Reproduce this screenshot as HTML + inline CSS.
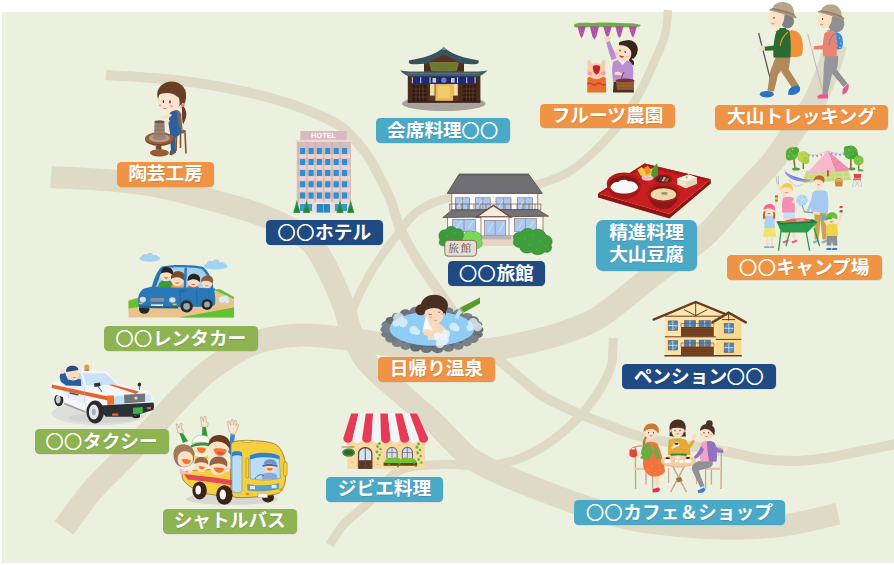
<!DOCTYPE html>
<html lang="ja"><head><meta charset="utf-8"><title>大山エリアマップ</title>
<style>
html,body{margin:0;padding:0;background:#fff}
#map{position:relative;width:894px;height:565px;overflow:hidden;font-family:"Liberation Sans","Noto Sans CJK JP",sans-serif}
#map svg{position:absolute;left:0;top:0}
.lb{position:absolute;box-sizing:border-box;border-radius:4.5px;color:#fff;font-weight:700;font-size:18.7px;line-height:23px;text-align:center;white-space:nowrap;text-shadow:.5px .5px .5px rgba(40,30,20,.18);box-shadow:.5px .5px 0 rgba(0,0,0,.12)}
.lb i{font-style:normal;font-weight:500;-webkit-text-stroke:.7px #fff;font-size:17.6px;letter-spacing:1px;text-shadow:none;font-family:"Noto Sans CJK JP",sans-serif}
.or{background:#ef9445}.nv{background:#1f4a82}.tl{background:#4ba9c8}.gr{background:#8db352}
.two{line-height:22.7px;border-radius:7px;padding-top:1.5px}
</style></head><body>
<div id="map">
<svg width="894" height="565" viewBox="0 0 894 565">
<rect x="2" y="12" width="892" height="551" fill="#ecf0df"/>
<g fill="none" stroke="#dedac6" stroke-linecap="butt" stroke-linejoin="round">
<path d="M106.0,75.0 C117.5,75.8 152.3,77.3 175.0,80.0 C197.7,82.7 221.8,86.7 242.0,91.0 C262.2,95.3 279.7,100.2 296.0,106.0 C312.3,111.8 328.5,118.3 340.0,126.0 C351.5,133.7 358.3,143.3 365.0,152.0 C371.7,160.7 375.7,169.8 380.0,178.0 C384.3,186.2 387.7,192.7 391.0,201.0 C394.3,209.3 395.5,218.0 400.0,228.0 C404.5,238.0 411.7,250.7 418.0,261.0 C424.3,271.3 431.0,280.2 438.0,290.0 C445.0,299.8 452.2,310.3 460.0,320.0 C467.8,329.7 476.3,339.5 485.0,348.0 C493.7,356.5 502.7,363.2 512.0,371.0 C521.3,378.8 530.5,388.2 541.0,395.0 C551.5,401.8 563.8,407.0 575.0,412.0 C586.2,417.0 596.8,420.8 608.0,425.0 C619.2,429.2 628.3,433.5 642.0,437.0 C655.7,440.5 675.7,443.5 690.0,446.0 C704.3,448.5 716.0,449.8 728.0,452.0 C740.0,454.2 750.7,457.5 762.0,459.0 C773.3,460.5 784.8,461.2 796.0,461.0 C807.2,460.8 817.8,459.2 829.0,457.5 C840.2,455.8 851.8,452.9 863.0,450.7 C874.2,448.4 890.5,445.1 896.0,444.0" stroke-width="10"/>
<path d="M51.0,177.0 C62.0,177.7 98.8,179.3 117.0,181.0 C135.2,182.7 146.2,184.3 160.0,187.0 C173.8,189.7 184.3,192.8 200.0,197.0 C215.7,201.2 239.0,207.3 254.0,212.5 C269.0,217.7 280.2,222.6 290.0,228.0 C299.8,233.4 306.5,237.7 313.0,245.0 C319.5,252.3 323.8,261.7 329.0,272.0 C334.2,282.3 340.3,297.2 344.0,307.0 C347.7,316.8 347.7,322.5 351.0,331.0 C354.3,339.5 359.0,350.5 364.0,358.0 C369.0,365.5 374.9,370.2 381.0,376.0 C387.1,381.8 394.7,387.8 400.7,393.0 C406.7,398.2 411.5,402.7 417.0,407.5 C422.5,412.3 428.1,416.8 433.6,422.0 C439.1,427.2 444.4,433.0 450.0,438.6 C455.6,444.2 461.6,451.1 467.3,455.7 C473.0,460.3 478.4,462.9 484.0,466.0 C489.6,469.1 492.6,470.6 501.0,474.2 C509.4,477.8 522.2,482.9 534.5,487.7 C546.8,492.5 562.4,498.6 575.0,503.0 C587.6,507.4 598.0,510.8 610.0,514.0 C622.0,517.2 628.8,520.0 647.0,522.4 C665.2,524.8 696.3,528.0 719.0,528.5 C741.7,529.0 763.2,528.0 783.0,525.5 C802.8,523.0 828.8,515.7 838.0,513.7" stroke-width="22"/>
<path d="M64.0,528.0 C68.3,522.2 81.7,503.0 90.0,493.0 C98.3,483.0 104.3,478.0 114.0,468.0 C123.7,458.0 137.3,444.3 148.0,433.0 C158.7,421.7 168.3,410.0 178.0,400.0 C187.7,390.0 195.3,381.5 206.0,373.0 C216.7,364.5 231.5,354.7 242.0,349.0 C252.5,343.3 259.0,341.3 269.0,339.0 C279.0,336.7 290.2,335.2 302.0,335.0 C313.8,334.8 326.3,336.5 340.0,338.0 C353.7,339.5 369.0,342.0 384.0,344.0 C399.0,346.0 413.3,349.0 430.0,350.0 C446.7,351.0 466.7,351.5 484.0,350.0 C501.3,348.5 518.8,344.6 534.0,341.0 C549.2,337.4 563.2,333.1 575.0,328.5 C586.8,323.9 591.4,322.5 604.6,313.5 C617.8,304.5 637.5,287.1 654.0,274.3 C670.5,261.6 689.9,249.4 703.7,237.0 C717.5,224.6 725.4,212.7 737.0,200.0 C748.6,187.3 763.6,172.5 773.2,160.8 C782.8,149.1 787.8,139.1 794.4,129.6 C801.0,120.1 807.7,113.1 813.0,104.0 C818.3,94.9 822.2,85.0 826.0,75.0 C829.8,65.0 834.3,49.2 836.0,44.0" stroke-width="23"/>
<path d="M668.0,10.0 C667.5,14.2 667.2,26.7 665.0,35.0 C662.8,43.3 658.9,50.9 655.0,60.0 C651.1,69.1 645.9,81.0 641.4,89.7 C636.9,98.4 632.6,105.2 628.0,112.0 C623.4,118.8 619.6,124.0 614.0,130.6 C608.4,137.2 601.7,144.8 594.3,151.6 C586.9,158.4 578.6,166.1 569.5,171.5 C560.4,176.9 551.4,180.4 539.8,183.8 C528.2,187.2 514.6,189.8 500.0,192.0 C485.4,194.2 465.7,193.8 452.0,197.0 C438.3,200.2 427.0,204.8 418.0,211.0 C409.0,217.2 404.7,225.7 398.0,234.0 C391.3,242.3 383.7,252.5 378.0,261.0 C372.3,269.5 368.5,276.2 364.0,285.0 C359.5,293.8 353.8,305.5 351.0,314.0 C348.2,322.5 347.7,332.3 347.0,336.0" stroke-width="8.5"/>
<path d="M613.4,338.0 C613.3,340.3 612.9,347.6 612.6,352.0 C612.3,356.4 613.3,358.9 611.6,364.5 C609.9,370.1 606.3,378.6 602.3,385.7 C598.3,392.8 592.6,400.8 587.7,407.0 C582.8,413.2 578.5,417.7 573.0,423.0 C567.5,428.3 560.7,434.2 554.5,438.8 C548.3,443.4 542.8,447.2 536.0,450.8 C529.2,454.4 522.7,458.0 514.0,460.5 C505.3,463.0 496.3,465.3 484.0,466.0 C471.7,466.7 454.3,463.6 440.0,464.5 C425.7,465.4 410.0,465.1 398.0,471.5 C386.0,477.9 377.0,494.2 368.0,503.0 C359.0,511.8 350.4,517.0 344.0,524.0 C337.6,531.0 331.9,541.5 329.5,545.0" stroke-width="9"/>
</g>
<!-- 01_pottery -->
<g>
<!-- stool -->
<g stroke="#8a4f2a" stroke-width="1.6" fill="none"><path d="M176.5,133 L176,151"/><path d="M185,133 L186,153.5"/><path d="M180.5,134 L180.5,148"/></g>
<ellipse cx="180.5" cy="131.5" rx="5.8" ry="2.2" fill="#9a5a30"/>
<!-- ponytail -->
<path d="M181.5,104 C186,108 187.5,114 185.5,119 C184.6,121.5 183.6,123.5 183.2,124.5 C182,121 181.6,116 182,111 Z" fill="#6b3f24"/>
<!-- hair back -->
<ellipse cx="171.6" cy="94.6" rx="14.4" ry="13.2" fill="#6b3f24"/>
<!-- body (gray shirt) -->
<path d="M172,111 C176,109 180,110 181,114 L182.5,129 L176,131 L171,128 Z" fill="#6f6a6a"/>
<!-- apron -->
<path d="M169.5,113.5 C171,110.5 175.5,110 177,112.5 L179,130 L170,133 L168.5,124 Z" fill="#2f5f9c"/>
<!-- legs -->
<path d="M170,128 L181,127.5 L181.5,133 L175.5,138 L175.5,150 L171,151 L170,137 Z" fill="#2f609e"/>
<path d="M170.5,150 L175.8,149 L176,152.5 L171.5,155.5 L169.2,154.5 Z" fill="#5a5a62"/>
<path d="M155.5,146.5 l3.5,-1.5 l1,3 l-4,1.5z" fill="#5a5a62"/>
<!-- face -->
<path d="M158.2,99 C158.8,92 165,88.5 171,90.5 C177,92.5 180.5,98 179.5,104 C178.5,109.5 173,112 167,111 C161,110 157.6,105.5 158.2,99 Z" fill="#fbe5d0"/>
<!-- hair front -->
<path d="M157.8,95 C160,85.5 170,80.5 178,84 C186,87.5 188,97 184.2,104.5 C182.5,101 178,96 173,94 C168,92 162,93 157.8,95 Z" fill="#6b3f24"/>
<g fill="#4a2a18" opacity=".55"><circle cx="168" cy="86" r=".5"/><circle cx="172" cy="85" r=".5"/><circle cx="176" cy="87" r=".5"/><circle cx="180" cy="90" r=".5"/><circle cx="183" cy="94" r=".5"/><circle cx="170" cy="89" r=".5"/><circle cx="174" cy="89.5" r=".5"/><circle cx="178" cy="92" r=".5"/><circle cx="181.5" cy="97" r=".5"/><circle cx="164" cy="89" r=".5"/><circle cx="166.5" cy="91.5" r=".5"/><circle cx="177" cy="96" r=".5"/><circle cx="180" cy="100" r=".5"/></g>
<ellipse cx="163.4" cy="101.5" rx=".7" ry="1.5" fill="#3a2a20"/><ellipse cx="170" cy="101.8" rx=".8" ry="1.6" fill="#3a2a20"/>
<ellipse cx="160.2" cy="105.5" rx="1.5" ry="1" fill="#f4a0b0"/><ellipse cx="171.5" cy="106.3" rx="1.8" ry="1.1" fill="#f4a0b0"/>
<path d="M163,108 q1.8,1.3 3.6,.2" stroke="#b05040" stroke-width=".7" fill="none"/>
<circle cx="183" cy="105.3" r="1.6" fill="#f070a8"/>
<!-- arms -->
<path d="M172,115 C170,118 166,119.5 161.5,118.5 L160.5,116.5 C164,116.5 167,115.5 169,113 Z" fill="#fbe0c8"/>
<path d="M170,121 C167,123.5 164.5,123.5 162.5,122 L163.5,120.5 C165.5,121.5 167.5,121 169,119.5 Z" fill="#fbe0c8"/>
<!-- wheel -->
<rect x="157.4" y="140" width="4" height="12" fill="#7a4424"/>
<ellipse cx="159.4" cy="153" rx="9.3" ry="3.4" fill="#8a4f28"/>
<ellipse cx="159.4" cy="152.3" rx="9.3" ry="3" fill="#9a5c30"/>
<ellipse cx="159.4" cy="139.5" rx="14.3" ry="6.4" fill="#7e4624"/>
<ellipse cx="159.4" cy="138.2" rx="14.3" ry="6.1" fill="#9a5f34"/>
<ellipse cx="159.4" cy="138" rx="10.6" ry="4.3" fill="#b59a8c"/>
<ellipse cx="159.4" cy="137.6" rx="7" ry="2.6" fill="#a08676"/>
<!-- pot -->
<path d="M154.6,122 C154.2,120.6 164.8,120.6 164.4,122 L164.9,134 C165.6,136 165.6,137.5 164.4,138.6 L154.6,138.6 C153.4,137.5 153.4,136 154.1,134 Z" fill="#9c8274"/>
<ellipse cx="159.5" cy="121.8" rx="4.9" ry="1.5" fill="#6e5448"/>
<g stroke="#7a6054" stroke-width=".6" fill="none"><path d="M154.5,126 h10"/><path d="M154.4,130 h10.2"/><path d="M154.2,134 h10.6"/></g>
</g>

<!-- 02_hotel -->
<g>
<rect x="300.3" y="131" width="46.5" height="9" fill="#d9b9bd"/>
<text x="323.6" y="138.3" font-family="'Liberation Sans',sans-serif" font-weight="700" font-size="7.6" fill="#fff" text-anchor="middle" textLength="25" lengthAdjust="spacingAndGlyphs">HOTEL</text>
<rect x="295.6" y="139.8" width="57" height="2.4" fill="#ead9d8"/>
<rect x="296.8" y="142" width="54.2" height="62" fill="#d6bcbc"/>
<rect x="297.5" y="154.3" width="52.5" height="4.2" fill="#ecd2d0"/>
<rect x="297.5" y="165.2" width="52.5" height="4.2" fill="#ecd2d0"/>
<rect x="297.5" y="176.3" width="52.5" height="4.2" fill="#ecd2d0"/>
<rect x="297.5" y="187.5" width="52.5" height="4.2" fill="#ecd2d0"/>
<rect x="297.5" y="198.8" width="52.5" height="4.2" fill="#ecd2d0"/>
<rect x="297.6" y="142" width="1.6" height="61" fill="#c9aeb0" opacity=".6"/>
<rect x="306.1" y="142" width="1.6" height="61" fill="#c9aeb0" opacity=".6"/>
<rect x="314.4" y="142" width="1.6" height="61" fill="#c9aeb0" opacity=".6"/>
<rect x="322.7" y="142" width="1.6" height="61" fill="#c9aeb0" opacity=".6"/>
<rect x="331.2" y="142" width="1.6" height="61" fill="#c9aeb0" opacity=".6"/>
<rect x="339.5" y="142" width="1.6" height="61" fill="#c9aeb0" opacity=".6"/>
<rect x="300.1" y="148.0" width="5" height="6" rx=".6" fill="#2b8fd6"/>
<rect x="308.6" y="148.0" width="5" height="6" rx=".6" fill="#2b8fd6"/>
<rect x="316.9" y="148.0" width="5" height="6" rx=".6" fill="#2b8fd6"/>
<rect x="325.2" y="148.0" width="5" height="6" rx=".6" fill="#2b8fd6"/>
<rect x="333.7" y="148.0" width="5" height="6" rx=".6" fill="#2b8fd6"/>
<rect x="342.0" y="148.0" width="5" height="6" rx=".6" fill="#2b8fd6"/>
<rect x="300.1" y="158.9" width="5" height="6" rx=".6" fill="#2b8fd6"/>
<rect x="308.6" y="158.9" width="5" height="6" rx=".6" fill="#2b8fd6"/>
<rect x="316.9" y="158.9" width="5" height="6" rx=".6" fill="#2b8fd6"/>
<rect x="325.2" y="158.9" width="5" height="6" rx=".6" fill="#2b8fd6"/>
<rect x="333.7" y="158.9" width="5" height="6" rx=".6" fill="#2b8fd6"/>
<rect x="342.0" y="158.9" width="5" height="6" rx=".6" fill="#2b8fd6"/>
<rect x="300.1" y="170.0" width="5" height="6" rx=".6" fill="#2b8fd6"/>
<rect x="308.6" y="170.0" width="5" height="6" rx=".6" fill="#2b8fd6"/>
<rect x="316.9" y="170.0" width="5" height="6" rx=".6" fill="#2b8fd6"/>
<rect x="325.2" y="170.0" width="5" height="6" rx=".6" fill="#2b8fd6"/>
<rect x="333.7" y="170.0" width="5" height="6" rx=".6" fill="#2b8fd6"/>
<rect x="342.0" y="170.0" width="5" height="6" rx=".6" fill="#2b8fd6"/>
<rect x="300.1" y="181.2" width="5" height="6" rx=".6" fill="#2b8fd6"/>
<rect x="308.6" y="181.2" width="5" height="6" rx=".6" fill="#2b8fd6"/>
<rect x="316.9" y="181.2" width="5" height="6" rx=".6" fill="#2b8fd6"/>
<rect x="325.2" y="181.2" width="5" height="6" rx=".6" fill="#2b8fd6"/>
<rect x="333.7" y="181.2" width="5" height="6" rx=".6" fill="#2b8fd6"/>
<rect x="342.0" y="181.2" width="5" height="6" rx=".6" fill="#2b8fd6"/>
<rect x="300.1" y="192.5" width="5" height="6" rx=".6" fill="#2b8fd6"/>
<rect x="308.6" y="192.5" width="5" height="6" rx=".6" fill="#2b8fd6"/>
<rect x="316.9" y="192.5" width="5" height="6" rx=".6" fill="#2b8fd6"/>
<rect x="325.2" y="192.5" width="5" height="6" rx=".6" fill="#2b8fd6"/>
<rect x="333.7" y="192.5" width="5" height="6" rx=".6" fill="#2b8fd6"/>
<rect x="342.0" y="192.5" width="5" height="6" rx=".6" fill="#2b8fd6"/>

<rect x="297.5" y="203" width="53" height="9.6" fill="#e6dcdc"/>
<rect x="300" y="204" width="12" height="7" fill="#3a98d8"/>
<rect x="335" y="204" width="12" height="7" fill="#3a98d8"/>
<rect x="314.5" y="202.5" width="18" height="1.6" fill="#f2ecec"/>
<rect x="316.7" y="204" width="13.3" height="8.6" fill="#2b86c6"/>
<rect x="323" y="204" width=".7" height="8.6" fill="#8fc4ea"/>
<g fill="#2f9a3c"><path d="M296.8,200 l3.6,12.8 h-7.2z"/><path d="M306.5,200 l3.6,12.8 h-7.2z"/><path d="M340,200 l3.6,12.8 h-7.2z"/><path d="M350.7,200 l3.6,12.8 h-7.2z"/></g>
<g fill="#1f7a2c" opacity=".6"><path d="M296.8,205 l3,7.8 h-6z"/><path d="M306.5,205 l3,7.8 h-6z"/><path d="M340,205 l3,7.8 h-6z"/><path d="M350.7,205 l3,7.8 h-6z"/></g>
</g>
<!-- 03_kaiseki -->
<g>
<ellipse cx="443.8" cy="103.6" rx="42" ry="7.4" fill="#aaa39c"/>
<!-- body -->
<rect x="407.8" y="74" width="72.6" height="28.6" fill="#4a2c1c"/>
<rect x="424" y="60" width="40" height="16" fill="#4e2e1c"/>
<!-- gable panel -->
<path d="M429.5,62.5 L458.5,62.5 L456.5,70.6 L431.5,70.6 Z" fill="#6c7a30"/>
<path d="M429.5,62.5 L458.5,62.5 L456.5,70.6 L431.5,70.6 Z" fill="none" stroke="#c8c890" stroke-width=".5" opacity=".6"/>
<!-- upper roof -->
<path d="M443.8,47.5 C440,50.5 434,54 428,56 C422,58 415,59.5 409.5,60.2 C408.3,61 408.6,63.4 410.5,64 C418,64.5 425,64 430,62.6 C435,61 440,57.5 443.8,55 C447.6,57.5 452.6,61 457.6,62.6 C462.6,64 469.6,64.5 477.1,64 C479,63.4 479.3,61 478.1,60.2 C472.6,59.5 465.6,58 459.6,56 C453.6,54 447.6,50.5 443.8,47.5 Z" fill="#38525e"/>
<path d="M443.8,46.5 l2.5,3.2 h-5z" fill="#7a8a90"/>
<path d="M443.8,54.5 C438,57.5 433,60 428,61.5 L459.6,61.5 C454.6,60 449.6,57.5 443.8,54.5 Z" fill="#5a3420"/>
<!-- lower roof -->
<path d="M400,70.4 C410,72 425,71.5 443.8,71.2 C462.6,71.5 477.6,72 487.6,70.4 C484,74 480,76.4 476,76.6 L411.6,76.6 C407.6,76.4 403.6,74 400,70.4 Z" fill="#435e68"/>
<path d="M408,73.5 h71.6" stroke="#5a8a60" stroke-width=".8" opacity=".7"/>
<!-- noren -->
<rect x="412" y="76.6" width="63.6" height="7.4" fill="#1c2a7a"/>
<g fill="#e8e8f0"><rect x="420.3" y="77.2" width=".9" height="6"/><rect x="429.6" y="77.2" width=".9" height="6"/><rect x="457" y="77.2" width=".9" height="6"/><rect x="466.3" y="77.2" width=".9" height="6"/><rect x="474.6" y="77.2" width=".9" height="6"/><rect x="411.8" y="77.2" width=".9" height="6"/><rect x="432.5" y="78" width="3.6" height="4.6" opacity=".85"/><rect x="451" y="78" width="3.6" height="4.6" opacity=".85"/></g>
<circle cx="443.8" cy="80.2" r="2.6" fill="#6a80c0"/>
<!-- entrance -->
<rect x="429.5" y="84" width="29" height="17.5" fill="#5a3622"/>
<rect x="430" y="84" width="4.6" height="11.6" fill="#f2dca6"/><rect x="453.2" y="84" width="4.6" height="11.6" fill="#f2dca6"/>
<rect x="435.4" y="84" width="17.6" height="17" fill="#e9bb55"/>
<rect x="438" y="86" width="12" height="12" fill="#f3d27a" opacity=".7"/>
<!-- lattice -->
<rect x="412.6" y="85" width="14" height="16.4" fill="#2e1a10"/><rect x="463.2" y="85" width="13" height="16.4" fill="#2e1a10"/>
<g stroke="#6a4630" stroke-width=".7"><path d="M412.6,89 h14 M412.6,93 h14 M412.6,97 h14 M416,85 v16.4 M419.6,85 v16.4 M423,85 v16.4"/><path d="M463.2,89 h13 M463.2,93 h13 M463.2,97 h13 M466.4,85 v16.4 M469.7,85 v16.4 M473,85 v16.4"/></g>
<rect x="407.8" y="100.8" width="72.6" height="1.8" fill="#3a2216"/>
</g>

<!-- 04_fruit -->
<g>
<!-- vine -->
<path d="M574,24.5 C580,21.5 588,23.5 596,22.8 C606,22 616,23 626,23.2 C632,23.3 637,23.5 641,25 C640,27.5 636,27 631,27.2 C620,27.5 608,27 596,27 C588,27 580,28 574.5,27.2 Z" fill="#6ab23e"/>
<g fill="#b24fa2"><path d="M577.4,26.2 h8.4 l-2.4,8.6 l-1.8,3.4 l-1.8,-3.4z"/><path d="M589.8,26.2 h9.2 l-2.6,10 l-2,3.6 l-2,-3.6z"/><path d="M603.2,26.2 h8.6 l-2.4,8.4 l-1.9,3.4 l-1.9,-3.4z"/><path d="M615.4,26.2 h8 l-2.2,8.8 l-1.8,3.2 l-1.8,-3.2z"/><path d="M628.6,26.2 h8.4 l-2.6,8.4 l-1.6,3.2 l-1.6,-3.2z"/></g>
<g fill="#d88ad0" opacity=".7"><circle cx="580.5" cy="30" r=".7"/><circle cx="582.5" cy="33" r=".7"/><circle cx="593.5" cy="30" r=".7"/><circle cx="595.5" cy="34" r=".7"/><circle cx="606.5" cy="30" r=".7"/><circle cx="608.5" cy="33" r=".7"/><circle cx="618.5" cy="30" r=".7"/><circle cx="620" cy="33.5" r=".7"/><circle cx="632" cy="30" r=".7"/><circle cx="633.5" cy="33" r=".7"/></g>
<!-- woman hair back -->
<ellipse cx="628.6" cy="49.6" rx="9.2" ry="9.6" fill="#3b241a"/>
<path d="M629.5,58.5 C633,59 635,61.5 633.5,65.5 C631.5,64.8 629.5,62.5 629,60 Z" fill="#3b241a"/>
<!-- raised arm -->
<path d="M611.5,60 C609.5,54 607.5,47 605.8,41.5 L609.2,40 C611.5,45.5 614.5,52 617.5,58 Z" fill="#b98fd2"/>
<path d="M603.5,37 l2,-1 l1.2,1 l1.8,-1.2 l1.2,1.6 l1.3,0 l-.6,3.2 l-3.6,2 l-2.4,-2z" fill="#fbdcc0"/>
<!-- body -->
<path d="M613,62 C616,58.5 628,58.5 631.5,63 C634,68 633.5,76 632.5,82.8 L613.5,82.8 C612,75 611.5,68 613,62 Z" fill="#b98fd2"/>
<path d="M617.5,59.5 l5,5.5 l4.5,-4.5z" fill="#f6f2f2"/>
<!-- skirt -->
<path d="M613.6,82 L633,82 L634,92.6 L613,92.6 Z" fill="#4a3022"/>
<!-- basket -->
<path d="M624,72 C622,76 621,79 621.5,81" stroke="#7a4a22" stroke-width="1" fill="none"/>
<path d="M615.8,80.4 C620,78.6 630,78.6 634.4,80.4 L633.2,90 L617,90 Z" fill="#8c5a2a"/>
<ellipse cx="625.1" cy="80.4" rx="9.2" ry="1.8" fill="#7a2a4a"/>
<g stroke="#b88a4a" stroke-width=".5" opacity=".7"><path d="M617,83 h16.6 M617.4,86 h15.8"/></g>
<path d="M614.5,72.5 C616.5,71 620,71.5 622,73.5 L621,75.5 C619,74.5 616.5,74.5 615,75 Z" fill="#fbdcc0"/>
<!-- face -->
<path d="M615.2,52.5 C615.6,46.5 621,43.5 626,45.5 C631,47.5 632.5,53 630.5,57.5 C628.5,61.5 622.5,62 619,60 C616.2,58.5 615,55.5 615.2,52.5 Z" fill="#fbdfc6"/>
<path d="M619,42.5 C625,39 634,41 636.5,47.5 C638,52 636.5,56.5 633,59 C633,54.5 631.5,50 627.5,47 C624.5,45 621.5,44.5 619,45.2 Z" fill="#3b241a"/>
<ellipse cx="620" cy="50.5" rx=".6" ry="1.1" fill="#2a1a14"/><ellipse cx="625.2" cy="52" rx=".6" ry="1.1" fill="#2a1a14"/>
<path d="M619,55 C620.5,55.6 622.5,56.2 624,56 C623.5,58.2 620,58.6 619,55 Z" fill="#d83030"/>
<ellipse cx="616.6" cy="53.8" rx="1.3" ry="1" fill="#f8b0a8" opacity=".8"/><ellipse cx="627.5" cy="56.5" rx="1.5" ry="1.1" fill="#f8b0a8" opacity=".8"/>
<!-- child -->
<path d="M587,61.5 l2.2,-2 l1.6,1.4 l1,3 l2,6 l-3.6,1.6 l-2.4,-6z" fill="#f8caae"/>
<path d="M606,61.5 l-2.2,-2 l-1.6,1.4 l-1,3 l-2,6 l3.6,1.6 l2.4,-6z" fill="#f8caae"/>
<path d="M587.4,78 C590,75 603,75 605.8,78 L606.2,92.6 L587.2,92.6 Z" fill="#e86f2a"/>
<path d="M587.4,84 q2.3,-2 4.6,0 t4.6,0 t4.6,0 t4.6,0" stroke="#d83a30" stroke-width="1.3" fill="none"/>
<ellipse cx="596.4" cy="71.2" rx="9.4" ry="8" fill="#f8caae"/>
<path d="M593,66 C594.5,65 598.5,65 600,66.2 C600.5,70 599,73.8 596.5,74.5 C594,73.8 592.5,70 593,66 Z" fill="#c8202a"/>
<ellipse cx="589.8" cy="73.4" rx="2.4" ry="1.8" fill="#f49a98" opacity=".85"/><ellipse cx="603.2" cy="73.4" rx="2.4" ry="1.8" fill="#f49a98" opacity=".85"/>
</g>

<!-- 05_trek -->
<g>
<!-- MAN -->
<path d="M758.6,33 L773,89.5" stroke="#5a5a60" stroke-width="1.3" fill="none"/>
<!-- backpack -->
<path d="M787,32 C794,27.5 801,32 802.4,41 C803.4,47 803,52 801.4,55.6 C799,57.4 792,57.4 788.4,56.4 Z" fill="#f0913a"/>
<!-- back leg -->
<path d="M781,56 L790.5,56 C790,62 789.5,66 788.5,69 L799,85.5 L793.2,89.5 L781.5,72 C780.2,68 780.4,62 781,56 Z" fill="#b18a5a"/>
<!-- front leg -->
<path d="M776,56.5 L789,56.5 C787,63 783,69.5 778,74.5 L774,91.5 L767.4,91 L770,73 C771.5,67 774,61.5 776,56.5 Z" fill="#b18a5a"/>
<ellipse cx="766.8" cy="94.2" rx="7" ry="3.3" fill="#2a72c2"/>
<path d="M788.5,91 C789,88 793,86 797.5,85.5 C800,86 800.8,88.5 799.5,91.5 C796.5,95 791,95.5 788,94.5 Z" fill="#2a72c2"/>
<!-- jacket -->
<path d="M776.4,31.2 C779,28.4 787,28.2 789.4,31 C791,38 791,50 790.4,57.6 L773.4,57.6 C773,48 774,38 776.4,31.2 Z" fill="#2a6b32"/>
<path d="M779.5,28 h6.5 v3.6 h-6.5z" fill="#2a6b32"/>
<path d="M788,32 C784,35 781,40 780,46" stroke="#f0913a" stroke-width="1.2" fill="none"/>
<path d="M780,41 C779.5,45 779,48 777.5,50.2 L764.6,50.8 L764.2,46.8 L774.6,45.6 C775,43 775.6,40 776.4,37.6 Z" fill="#2a6b32"/>
<ellipse cx="762" cy="48.2" rx="2.8" ry="2.6" fill="#fbdcc0"/>
<!-- head -->
<ellipse cx="787.4" cy="21.4" rx="6.6" ry="6.8" fill="#808285"/>
<path d="M768.6,17 C768.6,13 772,11.5 776,11.5 L784,13 C785,18 783.5,24.5 779.6,26.8 C775.5,28.4 771.6,26.5 770.6,23.5 L768.4,20.4 L769.4,19 Z" fill="#fbe0c4"/>
<ellipse cx="774" cy="18" rx=".55" ry="1" fill="#3a2a20"/>
<path d="M771.4,23.4 q1.6,1 3,0" stroke="#c05040" stroke-width=".6" fill="none"/>
<path d="M772,10.4 C772.6,4 779,1.2 785,2.2 C791,3.2 794.6,8 794,14.6 Z" fill="#b9a58a"/>
<path d="M769.8,10.6 C768.6,9.6 769.6,8.4 772.4,8.6 C779,9 789,11.6 795,15.4 C797.4,17 796.6,18.6 794.6,18.2 C788,15.6 778,12.4 769.8,10.6 Z" fill="#a8947a"/>
<path d="M772,8.8 C778,9.6 788,12 794.4,15" stroke="#8e7c66" stroke-width="1.4" fill="none"/>
<!-- WOMAN -->
<path d="M807.8,34.4 L822.4,90" stroke="#b9bcc4" stroke-width="1.1" fill="none"/>
<!-- backpack -->
<path d="M832.6,33.6 C836,30.6 841.6,33 842.6,39 C843.2,43 842.8,46.4 841.6,48.6 C839,49.8 835.4,49.6 833.4,48.8 Z" fill="#3b8bda"/>
<g fill="#dfeefa"><circle cx="836" cy="36" r=".6"/><circle cx="839.5" cy="38" r=".6"/><circle cx="836.5" cy="41" r=".6"/><circle cx="840.5" cy="43" r=".6"/><circle cx="837" cy="46" r=".6"/><circle cx="840" cy="47.4" r=".6"/></g>
<!-- back leg -->
<path d="M828.6,56 L838,56 C838.4,62 837.6,66 836.6,69.6 L847.6,83.4 L843.4,87 L830.8,72 C829,67 828.6,61 828.6,56 Z" fill="#919295"/>
<!-- front leg -->
<path d="M825,56 L837,56 C837,63 835,69 832,74 L827.6,94 L822.4,94 L823.6,74 C823.6,67 824.2,61 825,56 Z" fill="#96979a"/>
<path d="M817.6,96.4 C818.6,94.2 822,93.6 827.8,94 L828,98.4 L818,98.6 Z" fill="#e8559a"/>
<path d="M843,88.5 L848,83.6 C849.4,85 848.8,88 847.6,90.6 C846.4,93 844.4,94.8 842.6,94.4 C842.2,92.4 842.4,90.4 843,88.5 Z" fill="#e8559a"/>
<!-- top -->
<path d="M824.4,33.6 C826,31 833,30.8 835.6,33.4 C837,40 837,49 836.6,56.6 L823.2,56.6 C822.6,48 823,40 824.4,33.6 Z" fill="#ea8472"/>
<path d="M827.4,30 h5.4 v4 h-5.4z" fill="#ea8472"/>
<path d="M827.6,42 C827.4,45 827,47.6 826,49.4 L813.4,49.4 L813.2,46.2 L822.6,45.2 C823,43 823.6,40.6 824.2,38.6 Z" fill="#ea8472"/>
<ellipse cx="811.4" cy="47.6" rx="2.5" ry="2.3" fill="#fbdcc0"/>
<path d="M834.6,33.4 C831.6,36 829.6,40 829,45" stroke="#3b8bda" stroke-width="1" fill="none"/>
<!-- head -->
<ellipse cx="836.2" cy="24" rx="8.2" ry="8.4" fill="#8e9093"/>
<path d="M817.4,18 C817.6,14.6 821,13 825,13 L831.6,14.6 C832.6,19.6 831,25.6 827.4,27.8 C823.6,29.2 820,27.4 819.2,24.4 L817.2,21.4 L818.2,20 Z" fill="#fbe0c4"/>
<ellipse cx="822.6" cy="19" rx=".55" ry="1" fill="#3a2a20"/>
<path d="M820,24.4 q1.5,1 2.8,0" stroke="#d04a50" stroke-width=".7" fill="none"/>
<path d="M820.6,12.4 C821.2,6.4 827,3.8 832.6,4.6 C838.6,5.6 842,10 841.6,16.4 Z" fill="#b9a58a"/>
<path d="M818.4,12.6 C817.2,11.6 818.2,10.4 821,10.6 C827.6,11 837,13.4 843,17 C845.2,18.6 844.6,20 842.6,19.8 C836,17.2 826.6,14.4 818.4,12.6 Z" fill="#a8947a"/>
<path d="M820.6,10.8 C826.6,11.6 836,14 842.2,16.8" stroke="#8e7c66" stroke-width="1.3" fill="none"/>
</g>

<!-- 06_ryokan -->
<g>
<!-- ground -->
<path d="M478,238 h36 l6,8 h-50z" fill="#ead2c4"/>
<!-- upper wall -->
<rect x="451.8" y="192" width="86" height="19" fill="#fbfaf6" stroke="#7a5a48" stroke-width=".7"/>
<g fill="#a9c9f2" stroke="#8a6a58" stroke-width=".6"><rect x="455.4" y="197.8" width="14.2" height="11.6"/><rect x="475.4" y="197.8" width="14.8" height="11.6"/><rect x="496" y="197.8" width="15" height="11.6"/><rect x="517.3" y="197.8" width="15.2" height="11.6"/></g>
<g stroke="#8a6a58" stroke-width=".5"><path d="M462.5,197.8 v11.6 M482.8,197.8 v11.6 M503.5,197.8 v11.6 M524.9,197.8 v11.6"/></g>
<!-- railing -->
<g stroke="#7a5a48" stroke-width=".7" fill="none"><path d="M449.5,204 h91.6 M449.5,210 h91.6"/><path d="M449.8,204 v6 M456,204 v6 M462,204 v6 M468,204 v6 M474,204 v6 M480,204 v6 M486,204 v6 M505,204 v6 M511,204 v6 M517,204 v6 M523,204 v6 M529,204 v6 M535,204 v6 M540.8,204 v6"/></g>
<!-- top roof -->
<path d="M458.9,174.5 L528.8,174.5 L542.4,193.4 L447.2,193.4 Z" fill="#6f6f74" stroke="#5a4034" stroke-width=".8"/>
<rect x="458.9" y="173.6" width="69.9" height="2.2" fill="#5e5e63"/>
<!-- lower wall -->
<rect x="447.4" y="216" width="95.6" height="20" fill="#fbfaf6" stroke="#7a5a48" stroke-width=".7"/>
<!-- lower roof -->
<path d="M451.8,210 L537.7,209.6 L548.6,216.2 L442.8,217.6 Z" fill="#727277" stroke="#5a4034" stroke-width=".7"/>
<!-- entrance gable -->
<path d="M493.4,205.4 L510.4,217 L476.4,217 Z" fill="#f4ecd8" stroke="#6a4a3a" stroke-width="1.3"/>
<rect x="481" y="217" width="28" height="19" fill="#fbfaf6" stroke="#7a5a48" stroke-width=".7"/>
<!-- lower windows -->
<g fill="#a9c9f2" stroke="#8a6a58" stroke-width=".6"><rect x="452.7" y="219.4" width="22.6" height="12"/><rect x="484.6" y="220.4" width="21.2" height="14.8"/><rect x="514.3" y="218.6" width="22" height="12.8"/></g>
<g stroke="#8a6a58" stroke-width=".5"><path d="M464,219.4 v12 M495.2,220.4 v14.8 M525.3,218.6 v12.8"/></g>
<g stroke="#e8f2fc" stroke-width=".8" opacity=".8"><path d="M456,229 l5,-8 M468,229 l5,-8 M488,232 l5,-9 M499,232 l5,-9 M518,229 l5,-8 M529,229 l5,-8 M458,207 l4,-7 M478,207 l4,-7 M499,207 l4,-7 M520,207 l4,-7"/></g>
<!-- steps -->
<rect x="480" y="235.8" width="31.2" height="3.6" fill="#b9b4b0"/>
<!-- bushes -->
<path d="M440,240 C437,234 441,229 446,230 C447,225.5 454,225 456,229 C461,227.5 465,232 463,236 C466,239 464,244 460,244.5 L444,246 C440,246 438,243 440,240 Z" fill="#3c9c3c" stroke="#2a7a2a" stroke-width=".6"/>
<path d="M464,236 C464,231 470,229.5 473,232 C478,230.5 483,235 481,240 C484,244 481,249 476,248.5 L466,247 C462,245 461.5,239.5 464,236 Z" fill="#7bd95a" stroke="#4aaa3a" stroke-width=".6"/>
<path d="M514,240 C512,235 516,231.5 521,232.5 C523,228 530,227 533,230.5 C538,227.5 545,230 545.6,235 C551,235.5 554,241 551,245 C553,249.5 549,253.5 544.6,252 C541,255.5 534,255.5 531.6,252 C526,254.5 520,252 520,247.5 C515,247.5 512,243.5 514,240 Z" fill="#3f9f3c" stroke="#2a7a2a" stroke-width=".6"/>
<g fill="#8fdc6a" opacity=".6"><circle cx="525" cy="238" r=".6"/><circle cx="533" cy="235" r=".6"/><circle cx="540" cy="240" r=".6"/><circle cx="530" cy="245" r=".6"/><circle cx="545" cy="246" r=".6"/><circle cx="537" cy="249" r=".6"/><circle cx="447" cy="236" r=".6"/><circle cx="455" cy="233" r=".6"/><circle cx="452" cy="240" r=".6"/></g>
<!-- sign -->
<rect x="444.8" y="240.4" width="31.8" height="15.8" rx="3.4" fill="#e2ded2" stroke="#8a6a58" stroke-width=".9"/>
<text x="460.7" y="252.3" font-family="'Liberation Serif','Noto Serif CJK SC','Noto Sans CJK JP',serif" font-size="10.5" fill="#6a4a3a" text-anchor="middle" letter-spacing="2">旅館</text>
</g>

<!-- 07_tofu -->
<g>
<!-- tray -->
<path d="M598,193.5 L669.4,214 L710.8,179.2 L710.8,183.4 L669.4,218.6 L598,197.6 Z" fill="#8e1414"/>
<path d="M644.5,163.6 L710.8,179.2 L669.4,214 L598,193.5 Z" fill="#c81e20"/>
<path d="M644.5,163.6 L710.8,179.2 L708,181.4 L645,166.4 L601.5,193.2 L598,193.5 Z" fill="#a81818"/>
<!-- garnish dish -->
<ellipse cx="647.6" cy="177.4" rx="6" ry="3.2" fill="#f3d6dc"/>
<path d="M641.6,176.8 C642.5,180.6 652.7,180.6 653.6,176.8 Z" fill="#eab8c4"/>
<path d="M637.5,170 l4,-3 l3,2.4 l3,-4 l2.6,3.6 l3.4,-.6 l-1,5 l-5,3.4 l-7,-1.4z" fill="#f3c844"/>
<path d="M644,168 l4,-2 l3,6 l-5,3z" fill="#f08a2a"/>
<path d="M651.5,176 C651,171 653,166.5 657,163.6 C658,166 658.4,169 657.6,171.6 C658.6,173 658,175.6 656.6,177 C654.6,177.6 652.6,177.2 651.5,176 Z" fill="#4a9a30"/>
<!-- small dish -->
<ellipse cx="663.4" cy="179.2" rx="8.8" ry="4.6" fill="#8e1616"/>
<path d="M654.6,179.2 C655,184.6 671.8,184.6 672.2,179.2 Z" fill="#9a1818"/>
<ellipse cx="663.4" cy="179.4" rx="7" ry="3.3" fill="#6e1010"/>
<path d="M658.5,180.5 l2,-4 l1.6,.4 l-1.2,4z" fill="#2a4a8a"/><path d="M661.5,181 l2.4,-4.4 l2,1 l-2,4z" fill="#c8b070"/><path d="M664.5,181.4 l3,-4 l2,1.2 l-2.6,3.6z" fill="#4a8a30"/>
<!-- tofu -->
<path d="M677.2,178.6 L688.6,174.4 L696.9,177.6 L696.9,183.8 L685.6,188.2 L677.2,184.4 Z" fill="#efe2c8"/>
<path d="M677.2,178.6 L688.6,174.4 L696.9,177.6 L685.6,181.8 Z" fill="#fbf6ea"/>
<path d="M685.6,181.8 L696.9,177.6 L696.9,183.8 L685.6,188.2 Z" fill="#e6d6b8"/>
<circle cx="686.8" cy="177.4" r="1" fill="#7ab850"/>
<!-- rice bowl -->
<path d="M606.8,183.4 C607.4,192 613,198.6 624.2,198.8 C635.4,198.6 641,192 641.6,183.4 Z" fill="#a01818"/>
<ellipse cx="624.2" cy="183.4" rx="17.4" ry="10.8" fill="#b41c1c"/>
<ellipse cx="624.2" cy="184.6" rx="15.2" ry="8.8" fill="#8a1414"/>
<path d="M610.4,187.4 C611.4,183.6 615,181.6 618.4,182 C620.4,179.4 626.4,179 628.6,181.4 C632.6,180.6 637.4,183.6 638.2,187.6 C636.4,191.8 630.4,193.6 624.2,193.6 C618,193.6 612,191.6 610.4,187.4 Z" fill="#f7f8fa"/>
<!-- soup bowl -->
<path d="M647.4,192.4 C648.4,201.4 654.4,208.8 663.4,209 C672.4,208.8 678.4,201.4 679.4,192.4 Z" fill="#8e1616"/>
<ellipse cx="663.4" cy="192.2" rx="16" ry="9.8" fill="#b41c1c"/>
<ellipse cx="663.4" cy="193.4" rx="13.8" ry="7.6" fill="#8a1414"/>
<ellipse cx="663.4" cy="194.4" rx="12.8" ry="6.2" fill="#f0d9a4"/>
<ellipse cx="664.4" cy="193.4" rx="3.2" ry="1.3" fill="#9a9080"/>
</g>

<!-- 08_camp -->
<g>
<!-- trees left -->
<rect x="793.4" y="156" width="1.6" height="12" fill="#9a6a3a" transform="rotate(-8 794 162)"/>
<rect x="802.6" y="160" width="1.5" height="9" fill="#9a6a3a"/>
<circle cx="792" cy="153.6" r="6.3" fill="#56b03c"/><circle cx="789.5" cy="157" r="3.6" fill="#56b03c"/><circle cx="795.5" cy="150.5" r="3.6" fill="#4aa838"/>
<circle cx="803.4" cy="157" r="6" fill="#b9d84a"/><circle cx="806" cy="160.5" r="3.4" fill="#a8d040"/>
<g fill="#f6e868"><circle cx="790" cy="152" r=".6"/><circle cx="794" cy="156" r=".6"/><circle cx="792.6" cy="149.6" r=".6"/><circle cx="788.6" cy="156" r=".6"/></g>
<g fill="#f08a50"><circle cx="802" cy="155" r=".6"/><circle cx="805.4" cy="158" r=".6"/><circle cx="803.6" cy="161" r=".6"/></g>
<ellipse cx="796" cy="169" rx="4" ry="1.6" fill="#4aa040"/>
<!-- trees right -->
<rect x="850" y="156" width="1.7" height="12" fill="#9a6a3a"/>
<rect x="858" y="162" width="1.4" height="8" fill="#9a6a3a"/>
<circle cx="850.8" cy="152.6" r="7" fill="#4cab3a"/><circle cx="846.8" cy="149" r="3" fill="#4cab3a"/><circle cx="855" cy="156" r="3.4" fill="#43a236"/>
<circle cx="858.6" cy="160.4" r="5" fill="#7ac840"/>
<g fill="#f4e060"><circle cx="849" cy="150" r=".6"/><circle cx="853" cy="154" r=".6"/><circle cx="848" cy="155" r=".6"/><circle cx="858" cy="159" r=".6"/><circle cx="860" cy="162" r=".6"/></g>
<ellipse cx="852" cy="169" rx="3.4" ry="1.4" fill="#4aa040"/><ellipse cx="860.6" cy="170.4" rx="3" ry="1.2" fill="#58b048"/>
<!-- bunting -->
<path d="M805,153.6 C814,156 822,154 827.5,150.5 C833,153 840,154.6 846,151.8" stroke="#b0a8a0" stroke-width=".4" fill="none"/>
<g><path d="M808,154.4 l2,.4 l-1.2,2.4z" fill="#e86aa0"/><path d="M812,155.2 l2,.1 l-1,2.5z" fill="#5a8ae0"/><path d="M816,155.2 l2,-.2 l-.8,2.6z" fill="#9a6ad0"/><path d="M820,154.4 l2,-.5 l-.6,2.6z" fill="#e86aa0"/><path d="M831,152.2 l2,.6 l-1.4,2.2z" fill="#5a8ae0"/><path d="M835,153.4 l2,.4 l-1.2,2.4z" fill="#9a6ad0"/><path d="M839,154 l2,.1 l-1,2.4z" fill="#5a8ae0"/><path d="M842.6,153.6 l2,-.4 l-.8,2.6z" fill="#e86aa0"/></g>
<!-- mat -->
<path d="M806,171 L848,168.4 L851,180 L802.6,183 Z" fill="#c9d97a"/>
<g stroke="#e6eeb0" stroke-width=".5" opacity=".8"><path d="M810,171 l-2,11.6 M818,170.4 l-1,12 M826,170 v12 M834,169.4 l1,12 M842,169 l2,11.6 M804,175 l46,-2.6 M803.4,179 l47,-2.8"/></g>
<!-- tent -->
<path d="M827.5,150.4 L835.4,171.6 L851,170.2 Z" fill="#ee8cae"/>
<path d="M827.5,150.4 L806.3,174 L835.4,171.6 Z" fill="#f7b9cc"/>
<g fill="#fde0e8" opacity=".7"><circle cx="836" cy="160" r=".5"/><circle cx="840" cy="164" r=".5"/><circle cx="838" cy="167" r=".5"/><circle cx="844" cy="167.6" r=".5"/><circle cx="833" cy="157" r=".5"/></g>
<rect x="827" y="170.4" width="1.8" height="6" fill="#e03a40"/>
<!-- hammock -->
<path d="M785.4,172.4 C789,180 800,183 809.8,180.4 C803,178.6 794,177 785.4,172.4 Z" fill="#6a7ad8"/>
<path d="M785.4,172.4 C791,178.6 801,181.6 809.8,180.4" stroke="#9a8ae0" stroke-width="1.6" fill="none"/>
<path d="M785.4,172.4 l-1.4,-3 M809.8,180.4 l3,-1.6 M789,179 C792,186 798,188 803,184" stroke="#a0a4c0" stroke-width=".5" fill="none"/>
<!-- chair and basket -->
<path d="M853.6,174 h7.6 l-.6,4.6 h-6.4z" fill="#e8404a"/><path d="M853,178.6 h8 v1.6 h-8z" fill="#f06a70"/>
<path d="M854,180 l-1.6,7 M860.4,180 l1.6,7 M855,180 l5,7 M859.6,180 l-5,7" stroke="#b0b4c0" stroke-width=".6" fill="none"/>
<path d="M834.6,181 h8.4 l-.8,5.6 h-6.8z" fill="#c88a3a"/><path d="M835.6,181 C836,177.6 841.6,177.6 842,181" stroke="#a86a2a" stroke-width=".7" fill="none"/>
<ellipse cx="838.8" cy="181" rx="4.2" ry="1" fill="#e8a050"/>
<!-- MOTHER -->
<path d="M784,199 C781,194 778.6,189 777,184.6 L779,183.6 C781,188 784,192.6 787,197 Z" fill="#fbdcc0"/>
<path d="M776,176 l1.2,8.4 M778.4,175.6 l.2,8.6" stroke="#a8acb8" stroke-width=".7" fill="none"/>
<path d="M784.6,213 L793.6,213 L795.6,240 L793.4,240 L789.6,222 L787.4,240 L785,240 Z" fill="#fbdcc0"/>
<path d="M783.6,211 h10.8 l.8,7.4 h-12z" fill="#bfe0f6"/>
<path d="M782.6,199 C784,196 792,196 794,198.6 C795,203 795,208 794.6,212.4 L782.4,212.4 C781.8,207.6 781.8,203 782.6,199 Z" fill="#f28fb2"/>
<path d="M793,199.6 C795,200 796,201.6 795,203.6 L791.4,202.8 Z" fill="#fbdcc0"/>
<path d="M782.6,241.4 l5.6,-1.8 l.4,1.8 l-5,2.2z M791.4,241.4 l5.6,-1.8 l.4,1.8 l-5,2.2z" fill="#ea5a9a"/>
<circle cx="786.8" cy="189.8" r="5" fill="#fbe2c8"/>
<path d="M781.2,189.4 C781,184.6 785,182.2 789,183.2 C792.4,184 793.6,187.6 792.6,191 C791,188.6 788,186.6 785,187.6 C783.2,188 782,188.6 781.2,189.4 Z" fill="#f2c95a"/>
<path d="M784.6,192.4 q2,1.6 4.2,0z" fill="#e05050"/>
<!-- fan -->
<circle cx="802" cy="200.2" r="5.6" fill="#a9d2f4"/>
<g stroke="#d8ecfc" stroke-width=".5"><path d="M802,194.6 v11.2 M797,197.6 l10,5.2 M797,202.8 l10,-5.2"/></g>
<path d="M802,205 l2.6,7" stroke="#6a9ad0" stroke-width="1" fill="none"/>
<!-- FATHER -->
<path d="M814.4,212 L826.6,212 L826.6,239.6 L822.4,239.6 L820.6,220 L818.6,239.6 L814.6,239.6 Z" fill="#c9a252"/>
<path d="M812.6,241.6 l5.6,-2.2 l1,1.8 l-5.4,2.6z M821.4,241.6 l5.4,-2.2 l1,1.8 l-5.2,2.6z" fill="#8aa8d8"/>
<path d="M812.6,192.4 C815,189.4 825,189.4 827.4,192.6 C828.6,198 828.6,206 827.8,213 L811.6,213 C810.6,206 811,198 812.6,192.4 Z" fill="#a3caf2"/>
<path d="M812.6,196 C810.6,201 808.6,206 806.6,210.4 L808.8,211.4 C811.4,207 813.6,203 815,199 Z" fill="#a3caf2"/>
<path d="M804,211 l12,1.4 l-.2,1.4 l-12,-1.2z" fill="#909498"/>
<path d="M813,211.4 l7,.6 l-.4,3 l-6.6,-1z" fill="#fbdcc0"/>
<rect x="817.4" y="187" width="2.6" height="3.4" fill="#fbdcc0"/>
<circle cx="818.8" cy="182" r="5" fill="#fbe2c8"/>
<path d="M813.6,181 C813.6,176.6 818,174.6 822,176 C825,177.2 825,181 823.6,183 C822.6,180.6 820,179.2 817,179.6 C815.6,179.8 814.4,180.4 813.6,181 Z" fill="#b9672a"/>
<path d="M816.8,184.6 q1.8,1.4 3.6,0z" fill="#e05050"/>
<!-- GIRL -->
<path d="M773,214 C775,209.6 776.6,205 777.4,201.4 L775.6,200.8 C774.4,205 772.6,209 770.4,212.6 Z" fill="#fbdcc0"/>
<rect x="775" y="195.4" width="3" height="2.2" fill="#e04a3a"/><rect x="775" y="197.6" width="3" height="2" fill="#f0c040"/><rect x="775" y="199.6" width="3" height="2" fill="#58b040"/>
<path d="M766,236.6 h2 l.4,10 h-2z M770.6,236.6 h2 l.6,10 h-2z" fill="#fbdcc0"/>
<path d="M764.4,246.2 h4.6 v1.8 h-5z M769.6,246.2 h4.6 v1.8 h-5z" fill="#8aa8d8"/>
<path d="M764.6,227.6 h10 l1.6,9.2 h-13.2z" fill="#f2e272"/>
<path d="M765,216.6 C766,214.6 773,214.6 774.2,216.6 L775,228 L764.2,228 Z" fill="#a9d2f4"/>
<circle cx="769" cy="210.6" r="5.2" fill="#fbe2c8"/>
<path d="M763.6,210 C763.4,205.6 767,203.4 771,204 C774.6,204.6 775.6,208 774.8,210.6 C771,208 767,208 763.6,210 Z" fill="#f06a9a"/>
<path d="M764,211 C762.6,214 762.6,217 763.6,219.4 L765.4,218 C765,216 765,213.6 765.6,211.6 Z M774.4,211.6 C775.6,214 775.6,217 774.6,219.4 L773,218 C773.4,216 773.4,214 773,212 Z" fill="#b9672a"/>
<path d="M767,213 q2,1.8 4.2,0z" fill="#e05050"/>
<!-- BOY -->
<path d="M836,224.6 C838.4,220 840,215.6 840.8,212 L842.6,212.6 C841.8,217 840.4,221.6 838.4,226 Z" fill="#fbdcc0"/>
<rect x="839.6" y="206" width="3" height="2.2" fill="#e04a3a"/><rect x="839.6" y="208.2" width="3" height="2" fill="#f2ead8"/><rect x="839.6" y="210.2" width="3" height="2.2" fill="#8a5a30"/>
<path d="M828,244.6 h2.6 v4 h-2.6z M832.8,244.6 h2.6 v4 h-2.6z" fill="#fbdcc0"/>
<path d="M826.6,248 h4.8 v2 h-5.2z M832.4,248 h4.8 v2 h-5.2z" fill="#3a7ad0"/>
<path d="M827,235 h10 l.4,10.4 h-4.6 l-.8,-5 l-.8,5 h-4.6z" fill="#8e9094"/>
<path d="M826.6,225 C828,223 836,223 837.4,225 L837.8,236 L826.4,236 Z" fill="#f2d242"/>
<path d="M826.6,226 l-3,-5 l1.6,-1 l3.4,4z" fill="#fbdcc0"/>
<path d="M821.6,215 h3.4 l-.4,5.4 h-2.6z" fill="#6aa8e0"/>
<circle cx="831.4" cy="219.4" r="5" fill="#fbe2c8"/>
<path d="M826,218.6 C826,213.6 830,211.6 834,212.6 C837.4,213.6 838,217 837.2,219.6 C834,217.6 829.6,217.4 826,218.6 Z" fill="#62c23e"/>
<path d="M825.4,218.8 C827,217.6 830,217.4 832,217.8 L831.6,219.2 C829.6,219 827,219.4 825.4,220 Z" fill="#4aa830"/>
<path d="M829.4,221.6 q2,1.8 4.2,0z" fill="#e05050"/>
<!-- GRILL -->
<g stroke="#2c9a4c" stroke-width="1.3" fill="none"><path d="M781,231 L778.6,250.6 M790,231 L786,246 M806,231 L809.6,250.6 M814,228 L819.6,246"/></g>
<path d="M776.4,221.4 L813,219.6 L817.4,222.6 L807.4,232.4 L781.4,232.4 Z" fill="#2c9a4c"/>
<path d="M776.4,221.4 L813,219.6 L817.4,222.6 L779.6,224.6 Z" fill="#1f7a3a"/>
<path d="M786,220.6 C792,218 802,217.4 810,219.4 L810,221.4 L786,222.6 Z" fill="#e86a5a"/>
<path d="M780,221.4 l7,-1 l.4,2 l-7,.6z" fill="#8a9a40"/>
<path d="M796,219.4 l8,-.6 l.4,2 l-8,.6z" fill="#f4a8a0"/>
<g fill="#5ac070" opacity=".6"><circle cx="786" cy="228" r=".5"/><circle cx="792" cy="229" r=".5"/><circle cx="798" cy="228" r=".5"/><circle cx="804" cy="229" r=".5"/><circle cx="789" cy="226" r=".5"/><circle cx="801" cy="226" r=".5"/></g>
</g>

<!-- 09_rentacar -->
<g>
<!-- clouds -->
<g fill="#a3d2f2"><ellipse cx="149.8" cy="258.6" rx="10.6" ry="3.2"/><circle cx="145" cy="257" r="3"/><circle cx="150" cy="256" r="3.2"/><circle cx="155" cy="257.4" r="2.6"/>
<ellipse cx="215.6" cy="266" rx="12" ry="3.6"/><circle cx="210" cy="264" r="3.2"/><circle cx="216" cy="262.8" r="3.6"/><circle cx="222" cy="265" r="3"/></g>
<!-- ground -->
<path d="M128.5,300 L138,297.6 L215,290.4 L234,298 L234,317.4 L128.5,317.4 Z" fill="#e9c28c"/>
<path d="M128.5,301 L139,297.4 L139,307 L128.5,308.6 Z" fill="#62c232"/>
<path d="M179,317.4 L234,307.4 L234,317.4 Z" fill="#62c232"/>
<path d="M213,289.6 L220,289.2 L234,297 L234,299 Z" fill="#62c232"/>
<!-- exhaust puff -->
<g fill="#d6ecfa"><circle cx="222" cy="299.6" r="3.2"/><circle cx="225.6" cy="298.4" r="3"/><circle cx="227" cy="301" r="2.4"/></g>
<!-- wheels back -->
<ellipse cx="144.2" cy="309.2" rx="5.2" ry="4.6" fill="#262626"/>
<!-- car body -->
<path d="M138,301 C138,295 140,291 144,288.6 L152,286.6 C154,278 158,270 162,266.6 C170,264 196,264.6 203,267 C209,271 212.6,280 213.8,290 C215.4,294 215.6,300 215,304.6 L212,306.4 L139.6,308 C138.4,306 138,303.6 138,301 Z" fill="#2a78b8"/>
<!-- window area -->
<path d="M154.6,286.4 C156.4,279 160,271.6 163.6,268.6 C170,266.4 195,267 201.4,269 C206.4,272.6 209.6,280.4 210.6,288.4 Z" fill="#9fd0ee"/>
<!-- people -->
<path d="M158,288 C158,282 162,279.6 167,280 C172,280.4 174,284 174,288 Z" fill="#3a9a40"/>
<circle cx="166" cy="275" r="6.3" fill="#fbdcc0"/>
<path d="M159.4,274.6 C159,269 163,266.4 167.6,267 C172.4,267.6 174,271.6 172.6,275 C170,272 165,270.8 159.4,274.6 Z" fill="#2a2220"/>
<path d="M163.4,277.6 q2.6,2.2 5.2,0z" fill="#d84a40"/>
<path d="M171,289 C171,285 174,283 178,283.4 C182,283.8 184,286 184,289 Z" fill="#f0a040"/>
<circle cx="177.4" cy="280" r="6.3" fill="#fbdcc0"/>
<path d="M171,279 C170.6,273 175,270.4 180,271.4 C185,272.4 186.4,277 184.6,281.6 C182,277.6 177,275.6 171,279 Z" fill="#7a4a2a"/>
<path d="M174.6,282.6 q2.6,2.2 5.2,0z" fill="#d84a40"/>
<path d="M186.6,289.6 C187,286 190,284.6 194,285 C198,285.4 199.6,287.6 199.6,289.6 Z" fill="#e84a40"/>
<circle cx="193.6" cy="281.4" r="5.8" fill="#fbdcc0"/>
<path d="M187.6,281 C187.4,275.6 191,273.2 195.6,274 C200,274.8 201,279 199.6,282 C197,279 193,278 187.6,281 Z" fill="#2a2220"/>
<path d="M191,284 q2.4,2 4.8,0z" fill="#d84a40"/>
<circle cx="207" cy="282.6" r="5.6" fill="#fbdcc0"/>
<path d="M201,282 C201,277 205,274.8 209,275.6 C213,276.4 214,280.6 212.6,283.6 C210,280.6 206,279.6 201,282 Z" fill="#8a5a3a"/>
<path d="M204.6,285.4 q2.2,1.8 4.4,0z" fill="#d84a40"/>
<!-- pillars -->
<path d="M184.6,267.4 L187,267.4 L186,289 L183.6,289 Z" fill="#2a78b8"/>
<path d="M152,287 L215,288.6 L215,291 L152,290 Z" fill="#2a78b8"/>
<path d="M160.6,268 L163,267.2 L156,286.6 L153,286.6 Z" fill="#2a70ae"/>
<!-- door lines -->
<path d="M180,290 L180.6,306.4 M196.6,290 L197,305.6" stroke="#1f5f96" stroke-width=".6" fill="none"/>
<ellipse cx="183" cy="290.8" rx="2.6" ry="1.6" fill="#2a6aa6"/>
<!-- front -->
<ellipse cx="142.8" cy="299.6" rx="3.2" ry="2.8" fill="#d8dee4"/><ellipse cx="172.4" cy="300" rx="3.2" ry="2.8" fill="#d8dee4"/>
<rect x="150.4" y="298" width="13.8" height="3.8" rx=".8" fill="#8a9098"/>
<rect x="151" y="304.4" width="12" height="3.6" fill="#f4f6f8"/>
<rect x="138.6" y="302.6" width="4" height="1.6" fill="#f0c030"/><rect x="172.6" y="303.6" width="4" height="1.6" fill="#f0c030"/>
<path d="M138.6,305.4 L178,306.6 L178,308.6 L139.6,308 Z" fill="#1f5f96"/>
<!-- wheels -->
<circle cx="186.6" cy="306.4" r="6.2" fill="#2a2a2a"/><circle cx="186.6" cy="306.4" r="3.3" fill="#9aa6b0"/>
<circle cx="207" cy="304.4" r="5.5" fill="#2a2a2a"/><circle cx="207" cy="304.4" r="2.9" fill="#9aa6b0"/>
</g>

<!-- 10_taxi -->
<g>
<ellipse cx="99" cy="413.5" rx="47.5" ry="11.6" fill="#dedfda"/>
<ellipse cx="104" cy="418" rx="36" ry="5" fill="#cfcfcc" opacity=".7"/>
<!-- rear wheel -->
<ellipse cx="58.9" cy="399.6" rx="4.6" ry="6.6" fill="#2a2c30"/><ellipse cx="58.2" cy="399.6" rx="2.4" ry="4" fill="#c9ced4"/>
<!-- body -->
<path d="M50.4,390 C50.6,386 51.6,384.4 53,383.4 L62,379 L80.6,371 C88,370.2 99,370.4 106,371.6 L118.4,384 C127,385.4 140,388.6 147.6,391.6 C151.6,393.6 153,397 153.4,402 L153.4,405 L101,407.6 L96,404 L88,404 L85,411 L64,402.6 L63,397 L56,395 L54,397.4 C52,396 50.6,393 50.4,390 Z" fill="#f4f6f9"/>
<path d="M64,402.6 L85,411 L86,413 L64.4,404.4 Z" fill="#9aa0a8"/>
<!-- side shading -->
<path d="M62,379 L80.6,371 L84,385.6 L85,404 L64,396 Z" fill="#e9eef4"/>
<!-- windows -->
<path d="M82.6,373.2 L105.6,373.2 L117.4,384.4 L86,385.2 Z" fill="#c9e2f6"/>
<path d="M64,379.4 L80.4,372.4 L83.2,384.6 L66,381 Z" fill="#b9d6ee"/>
<!-- stripes -->
<path d="M52,384.6 L108,396.6 L108,400.4 L51.6,388 Z" fill="#e8622a"/>
<path d="M108.6,384.8 L112.6,384.6 L139,391.6 L136,394 Z" fill="#e8622a"/>
<!-- door line / text -->
<path d="M68,388.4 L68.6,398" stroke="#b0b8c0" stroke-width=".5"/><path d="M84.4,386 L85,404" stroke="#b0b8c0" stroke-width=".5"/>
<rect x="69.4" y="393" width="9" height="1.8" fill="#5a6068" transform="rotate(12 74 394)"/>
<!-- front face -->
<path d="M107,395.4 L114,395.6 L114.4,404.6 L107.4,405 Z" fill="#f0702a"/>
<path d="M114.4,396 L124,395.4 L124.4,403.4 L114.8,404.4 Z" fill="#bfe0f6"/>
<path d="M124,394.8 L145,393.6 L145.4,401.8 L124.4,403.4 Z" fill="#72767a"/>
<circle cx="136" cy="398" r="1.6" fill="#d8dce0"/>
<path d="M145.4,393.8 L150.6,394.6 L151.4,400.8 L145.8,401.8 Z" fill="#cfe6f8"/>
<!-- bumper -->
<path d="M100.8,405.6 L153.4,402.4 C154.4,405 154.2,408 153.2,410 L131,416.8 L105.8,416.8 L101.6,411.4 Z" fill="#2b3136"/>
<rect x="133" y="407.4" width="9.8" height="6.2" fill="#3fb24a" transform="skewY(-4) translate(0 9.6)"/>
<rect x="112" y="413.6" width="6.4" height="2.2" rx=".8" fill="#f0603a"/><rect x="147" y="407" width="4" height="2.2" rx=".8" fill="#f0603a"/>
<!-- front wheel -->
<ellipse cx="95.2" cy="412" rx="8.8" ry="11.4" fill="#2a2c30"/><ellipse cx="93.8" cy="412" rx="5" ry="7.6" fill="#e4e8ec"/><ellipse cx="93.8" cy="412" rx="2" ry="3.2" fill="#aab0b8"/>
<path d="M131,416.8 L140,414 L140,417 C138,418.6 134,418.6 131,416.8 Z" fill="#1f2226"/>
<!-- roof lamp -->
<ellipse cx="86.8" cy="367.4" rx="2.6" ry="2.8" fill="#f39a2a"/><rect x="84.4" y="369.4" width="4.8" height="1.6" fill="#8a8e94"/>
<!-- mirrors -->
<path d="M94,383.6 l6,-1 l.6,3.4 l-6,1z" fill="#2a2e34"/><path d="M98,386 l4,6" stroke="#2a2e34" stroke-width=".8"/>
<ellipse cx="139.4" cy="384.4" rx="1.7" ry="2" fill="#2a2e34"/><path d="M139.4,386 v4" stroke="#2a2e34" stroke-width=".7"/>
<!-- driver -->
<path d="M59.6,376 C60.6,373 63,371.4 65,372.4 L68,380 L80.6,379 L81.4,386 L66,385.6 L60.6,381.6 Z" fill="#2a5b9a"/>
<circle cx="62.6" cy="371.6" r="2.4" fill="#fbdcc0"/>
<path d="M67.4,373.4 C67.4,369.6 71,367.6 75,368.4 C78.6,369.2 79.6,372.6 79,376 C78.4,379.6 75,381 72,380.4 C69,379.6 67.4,377 67.4,373.4 Z" fill="#fbdcc0"/>
<path d="M66,370.4 C66.4,367 69.6,365.4 73.4,365.8 C76.6,366.2 78.6,368 78.4,370 L66.6,372 Z" fill="#2a4a82"/>
<path d="M72.6,377 q1.6,1.6 3.4,.4z" fill="#d84a40"/>
</g>

<!-- 11_bus -->
<g>
<ellipse cx="232" cy="499" rx="46" ry="6" fill="#d6d8d2"/>
<!-- far wheel -->
<ellipse cx="268" cy="497.4" rx="6" ry="5" fill="#3a2418"/>
<!-- arms -->
<path d="M183,443 L179,432 L181.6,431 L188,441 Z" fill="#2f9a3c"/>
<path d="M176,424 l1.6,0 l1.2,4 l1.6,-4.6 l1.8,.4 l-1,5.2 l2.4,1 l-1,3.6 l-4.6,-.6z" fill="#fbe6cc" stroke="#9a7a5a" stroke-width=".4"/>
<path d="M202,436 L202.4,426 L205.6,426 L207.6,436 Z" fill="#2f9a3c"/>
<path d="M200.4,417 l1.6,-.2 l1.4,4.6 l.8,-5 l1.8,0 l.2,5.4 l2,1 l-.6,4 l-5.6,.4z" fill="#fbe6cc" stroke="#9a7a5a" stroke-width=".4"/>
<path d="M228,452 C229,445 230,439 230.6,434 L235,435 C234.4,441 233,449 231.6,456 Z" fill="#3a86d0"/>
<path d="M227.6,421.6 l1.6,-.4 l1.4,4 l.6,-5.6 l1.7,0 l.5,5.4 l1.4,-4.6 l1.6,.4 l-.6,5.4 l1.6,-2.4 l1.4,.8 l-2,5.6 l-1.6,4 l-5,-.6 l-1.8,-5z" fill="#fbe6cc" stroke="#9a7a5a" stroke-width=".4"/>
<!-- side body -->
<path d="M182.4,473 C186,470.4 200,469 231,470 L231,497.6 L206,493.6 C196,491 188,486 184,481 C182,478 181.6,475 182.4,473 Z" fill="#f4d040" stroke="#8a5a20" stroke-width=".7"/>
<path d="M184.2,474.2 C200,475.6 220,478 242,481.6 L242,486.9 C220,483.2 200,480.8 187.6,479.6 Z" fill="#e8475a"/>
<!-- cab -->
<path d="M231,444 C232,441.6 236,440.6 246,440.6 C260,440.6 270,441.6 276,444.6 C281,447.6 284.4,456 285.6,464 L285.6,478 C285,486 282,491.6 278,493.6 C266,496.6 250,497.8 236,497.6 L231,495 Z" fill="#f4d040" stroke="#8a5a20" stroke-width=".7"/>
<ellipse cx="247" cy="441.4" rx="5" ry="1.2" fill="#f8e070" stroke="#8a5a20" stroke-width=".4"/>
<path d="M230.6,479.8 L242,481.6 L242,486.9 L230.6,485 Z" fill="#e8475a"/>
<!-- door window -->
<path d="M232,454 C232.4,451.6 241,451.8 242,454 L242,491 C240,494 234,493 232,490.6 Z" fill="#b9ddf4" stroke="#5a8ab0" stroke-width=".5"/>
<path d="M232,452.4 C234,450.6 240,450.8 242,452.6 L242,456.4 C239,455 235,455 232,456.4 Z" fill="#2a82d2"/>
<!-- windshield -->
<path d="M250,456 C256,452.6 272,452.8 279.4,456.6 L280.4,478 C272,480.6 258,480.6 250.4,478.6 Z" fill="#b9ddf4" stroke="#5a8ab0" stroke-width=".5"/>
<path d="M250,455.6 C256,451.6 272,451.8 279.4,456 L279.6,459.6 C272,456.6 258,456.4 250,459.4 Z" fill="#2a82d2"/>
<!-- mirrors -->
<path d="M246,458 h2.6 v20 h-2.6z" fill="#f4d040" stroke="#8a5a20" stroke-width=".4"/>
<rect x="283.6" y="462" width="3.6" height="14" rx="1.4" fill="#f4d040" stroke="#8a5a20" stroke-width=".4"/>
<!-- driver -->
<path d="M262,476 C262.6,471.6 276,471.6 277,476 L277,479 L262,479.4 Z" fill="#8aa8d8"/>
<circle cx="269.6" cy="467.6" r="5" fill="#fbdcc0"/>
<path d="M263.6,464.4 C264,460.4 268,458.6 272,459.4 C275.6,460 277,462.6 276.6,465 C273,463.4 267,463.2 263.6,464.4 Z" fill="#7290c4"/>
<path d="M262.4,465.4 C266,463.6 274,463.6 277.6,465.6 L277.2,467 C274,465.6 266,465.6 262.8,466.8 Z" fill="#4a68a8"/>
<path d="M266.6,468.4 C268,468 271.4,468 272.8,468.6 C272.4,471.6 267.2,471.6 266.6,468.4 Z" fill="#f07828"/>
<path d="M255,479 C257,474.6 262,473.6 264,476" stroke="#4a4a50" stroke-width=".8" fill="none"/>
<!-- front lower -->
<path d="M247.6,484.6 C258,486.4 270,486 278.6,483.6 L278.4,488.8 C270,491 258,491.4 247.8,490 Z" fill="#5ba2d4" stroke="#3a6a98" stroke-width=".4"/>
<rect x="250" y="485.8" width="5" height="3.4" fill="#d8ecf8"/><rect x="271.6" y="484.8" width="5" height="3.4" fill="#d8ecf8"/>
<ellipse cx="247.6" cy="494" rx="2" ry="1.2" fill="#f08a2a"/><ellipse cx="281" cy="489.4" rx="1.6" ry="1.2" fill="#f08a2a"/>
<rect x="258" y="493.2" width="9.6" height="4.6" fill="#fafafa" stroke="#8a8a8a" stroke-width=".4"/>
<!-- wheels -->
<ellipse cx="199.6" cy="490.4" rx="7.2" ry="9" fill="#3a2418"/><ellipse cx="198.2" cy="490" rx="2.8" ry="4.6" fill="#f6f4f0"/>
<ellipse cx="224.4" cy="495" rx="8.2" ry="9.8" fill="#3a2418"/><ellipse cx="222.8" cy="494.6" rx="3.2" ry="5" fill="#f6f4f0"/>
<!-- PEOPLE -->
<!-- girl left -->
<path d="M173.6,456 C172.6,448 178,443.6 185,444.4 C192,445.2 196,451 194.6,458 C193.6,464 188,468 182,467 C177,466 174,462 173.6,456 Z" fill="#a4785a"/>
<path d="M177.6,459 C177.6,453 182,450.6 187,451.4 C192,452.4 194,457 192.6,461.6 C191,466 186,467.6 182,466.4 C179,465.4 177.6,462.6 177.6,459 Z" fill="#fbe0c6"/>
<path d="M181.8,459.4 C184.4,458.6 189.4,459.4 191,460.6 C190,465.6 183,465.4 181.8,459.4 Z" fill="#f07828"/>
<path d="M179.6,466 C181,471 186,472.6 190,471 L190.6,474 L180,474 Z" fill="#f4b8c8"/>
<!-- cap boy -->
<circle cx="200.6" cy="446.6" r="8" fill="#fbe0c6"/>
<path d="M192,443.6 C192.6,437 198,434.4 204,435.6 C209,436.6 211,440.6 210,444 C204,441.6 198,441.6 192,443.6 Z" fill="#f6f6f2" stroke="#9a8a6a" stroke-width=".4"/>
<path d="M190.6,445.6 C196,442 206,441.6 212,444.6 L211.6,447 C206,444.6 196,445 191.2,447.6 Z" fill="#2f9a3c"/>
<path d="M196.8,448 C199.2,447.2 204.4,447.6 206,448.8 C205.4,454.6 197.8,454.4 196.8,448 Z" fill="#f07828"/>
<path d="M194,455 C198,458 204,458 208,455 L209,459 L194,459.6 Z" fill="#f2d242"/>
<!-- big boy -->
<circle cx="219" cy="447" r="10.2" fill="#fbe0c6"/>
<path d="M208.6,446 C208,438 214,434.4 221,435.2 C228,436 231.6,441.6 229.6,449 C227,444 222,441 216,441.6 C213,442 210.4,443.6 208.6,446 Z" fill="#6a3a1a"/>
<path d="M213.6,449 C216.4,447.8 224,448.2 226.6,450 C225.6,458 214.8,457.8 213.6,449 Z" fill="#f07828"/>
<path d="M216.6,452.6 C218.6,451.8 222.6,452 224,452.8 C223,455.6 217.6,455.6 216.6,452.6 Z" fill="#e84a4a"/>
<!-- small kid -->
<circle cx="201.4" cy="465" r="6.8" fill="#fbe0c6"/>
<path d="M194.4,464 C194,458.6 198,456.4 202.6,457 C207,457.6 209,461 208,464.6 C205,461.6 199,461.4 194.4,464 Z" fill="#9a6a48"/>
<path d="M198.6,466.4 C200,466 203.6,466.2 204.8,467 C204.2,470.4 199.2,470.2 198.6,466.4 Z" fill="#f07828"/>
<!-- kid lower right -->
<circle cx="218.4" cy="466.6" r="8.6" fill="#fbe0c6"/>
<path d="M209.6,466 C209,459 214,456 220,456.6 C226,457.4 228.6,462 227,467 C224,463 216,462 209.6,466 Z" fill="#9a6240"/>
<path d="M213.8,467.8 C216.2,467 222.4,467.4 224.2,468.6 C223.4,474.6 214.8,474.4 213.8,467.8 Z" fill="#f07828"/>
<path d="M224,470 l5,-2 l1.6,3 l-5,2.6z" fill="#fbe0c6" stroke="#9a7a5a" stroke-width=".3"/>
<path d="M188,470 l4,-1 l1,3 l-4,1.4z" fill="#fbe0c6"/>
</g>

<!-- 12_onsen -->
<g>
<ellipse cx="432" cy="330" rx="47" ry="20.4" fill="#5e656d"/>
<ellipse cx="478.5" cy="329.6" rx="4.9" ry="3.7" fill="#646b73"/>
<ellipse cx="477.1" cy="334.4" rx="5.7" ry="3.7" fill="#6b727a"/>
<ellipse cx="473.2" cy="338.9" rx="5.3" ry="4.0" fill="#7a8088"/>
<ellipse cx="466.8" cy="342.9" rx="4.9" ry="3.5" fill="#7a8088"/>
<ellipse cx="458.4" cy="346.1" rx="5.2" ry="3.7" fill="#7a8088"/>
<ellipse cx="448.5" cy="348.3" rx="5.4" ry="3.4" fill="#737a82"/>
<ellipse cx="437.6" cy="349.5" rx="5.6" ry="3.7" fill="#6b727a"/>
<ellipse cx="426.4" cy="349.5" rx="5.4" ry="3.4" fill="#6b727a"/>
<ellipse cx="415.5" cy="348.3" rx="5.0" ry="3.3" fill="#646b73"/>
<ellipse cx="405.6" cy="346.1" rx="5.2" ry="3.9" fill="#7a8088"/>
<ellipse cx="397.2" cy="342.9" rx="5.5" ry="4.0" fill="#7a8088"/>
<ellipse cx="390.8" cy="338.9" rx="5.5" ry="3.8" fill="#737a82"/>
<ellipse cx="386.9" cy="334.4" rx="5.7" ry="3.4" fill="#737a82"/>
<ellipse cx="385.5" cy="329.6" rx="5.2" ry="3.5" fill="#7a8088"/>
<ellipse cx="386.9" cy="324.8" rx="5.5" ry="4.0" fill="#7a8088"/>
<ellipse cx="390.8" cy="320.3" rx="5.2" ry="3.6" fill="#646b73"/>
<ellipse cx="397.2" cy="316.3" rx="5.2" ry="3.6" fill="#737a82"/>
<ellipse cx="405.6" cy="313.1" rx="5.7" ry="3.8" fill="#6b727a"/>
<ellipse cx="415.5" cy="310.9" rx="5.6" ry="4.1" fill="#737a82"/>
<ellipse cx="426.4" cy="309.7" rx="5.4" ry="3.6" fill="#6b727a"/>
<ellipse cx="437.6" cy="309.7" rx="5.5" ry="3.5" fill="#646b73"/>
<ellipse cx="448.5" cy="310.9" rx="4.9" ry="3.4" fill="#7a8088"/>
<ellipse cx="458.4" cy="313.1" rx="4.7" ry="3.9" fill="#7a8088"/>
<ellipse cx="466.8" cy="316.3" rx="5.7" ry="3.3" fill="#7a8088"/>
<ellipse cx="473.2" cy="320.3" rx="5.5" ry="4.0" fill="#6b727a"/>
<ellipse cx="477.1" cy="324.8" rx="5.3" ry="3.9" fill="#7a8088"/>

<ellipse cx="432" cy="328.8" rx="42.5" ry="17" fill="#8fcdf4"/>
<!-- bamboo -->
<path d="M460,307.8 L480,297.4 L480,303.4 L464,312.4 Z" fill="#5a9a30"/>
<path d="M460,307.8 L464,312.4 L462.4,313.4 L458.6,309 Z" fill="#8aba5a"/>
<path d="M459,309 C457,312 455.4,315 455,318.6 L458.4,319 C459,316 460.4,314 462.4,312.6 Z" fill="#bfe2f8"/>
<!-- steam -->
<g fill="#e9f4fb" opacity=".75"><circle cx="398.6" cy="318" r="5.4"/><circle cx="403" cy="322.6" r="4.6"/><circle cx="396" cy="323" r="3.6"/><circle cx="413.6" cy="330" r="4.2"/><circle cx="417" cy="332" r="3"/><circle cx="453.6" cy="326.6" r="4.2"/><circle cx="456.6" cy="328.6" r="3"/><circle cx="473" cy="323" r="5"/><circle cx="477.6" cy="327" r="4.4"/><circle cx="470" cy="327.6" r="3.4"/></g>
<!-- woman -->
<circle cx="420.8" cy="309.8" r="5.5" fill="#4a2e22"/>
<ellipse cx="434.4" cy="305.4" rx="13.6" ry="10.6" fill="#4a2e22"/>
<path d="M431,323 C437,321.6 444,324.6 446.4,331 L447,340 L428,340 L427,330 Z" fill="#f8d9bb"/>
<path d="M424.6,315 C424.6,308.6 429,305 434.6,305.6 C440.6,306.2 444,310.6 443.2,316.6 C442.4,322 438,325 433,324.4 C428,323.8 424.6,320 424.6,315 Z" fill="#f8d9bb"/>
<path d="M423.6,312 C424.6,304 432,300.6 438,302 C444,303.4 447.6,309 445.6,315 C443,309.6 436,306.6 430,308.6 C427,309.6 425,310.6 423.6,312 Z" fill="#4a2e22"/>
<path d="M428.6,314.2 q1.6,.9 3.2,0" stroke="#4a2e22" stroke-width=".6" fill="none"/><path d="M438,312 q1.2,.8 2.4,0" stroke="#4a2e22" stroke-width=".6" fill="none"/>
<ellipse cx="430.6" cy="317.6" rx="1.5" ry="1" fill="#f6a8a0" opacity=".8"/><ellipse cx="442" cy="314" rx="1.5" ry="1" fill="#f6a8a0" opacity=".8"/>
<path d="M434,320 q1.4,1 2.8,0" stroke="#d06050" stroke-width=".6" fill="none"/>
<!-- towel -->
<path d="M426,316.4 L432.6,330.4 L422.6,332 C423.4,326 424.4,321 426,316.4 Z" fill="#fbfbfb"/>
<path d="M423,330 C426,328.6 430,329 432,331 L430,336 L424,335 Z" fill="#f8d9bb"/>
<!-- front steam -->
<g fill="#eef6fc" opacity=".85"><circle cx="442.6" cy="339.6" r="6.2"/><circle cx="438" cy="336.6" r="4.4"/><circle cx="446" cy="334" r="4"/><circle cx="440" cy="344" r="4"/></g>
</g>
<!-- 13_shop -->
<g>
<rect x="347.3" y="438" width="77.6" height="30.8" fill="#f8d9a2"/>
<g fill="#e8b878" opacity=".8"><rect x="350" y="446" width="3" height="1"/><rect x="376" y="444" width="3" height="1"/><rect x="380" y="452" width="3" height="1"/><rect x="398" y="444.6" width="3" height="1"/><rect x="419" y="463" width="3" height="1"/><rect x="351" y="462" width="3" height="1"/><rect x="376" y="464" width="3" height="1"/><rect x="415" y="445" width="3" height="1"/></g>
<!-- door -->
<path d="M357.9,468.8 L357.9,454 C357.9,444.6 372.5,444.6 372.5,454 L372.5,468.8 Z" fill="#6a4632"/>
<path d="M359.2,460.4 L359.2,454 C359.2,446.6 371.2,446.6 371.2,454 L371.2,460.4 Z" fill="#d4e6f6"/>
<rect x="359.2" y="460.4" width="12" height="8.4" fill="#5a3a2a"/>
<rect x="364.8" y="447.6" width=".9" height="21.2" fill="#6a4632"/>
<!-- windows -->
<path d="M386.4,458.4 L386.4,452.6 C386.4,445 397.7,445 397.7,452.6 L397.7,458.4 Z" fill="#7a6a68"/>
<path d="M387.5,458 L387.5,452.8 C387.5,446.4 396.6,446.4 396.6,452.8 L396.6,458 Z" fill="#cfe2f4"/>
<path d="M392,446.6 v11.6 M387.5,452.6 h9.2" stroke="#7a6a68" stroke-width=".8"/>
<path d="M401.7,458.4 L401.7,452.6 C401.7,445 413,445 413,452.6 L413,458.4 Z" fill="#7a6a68"/>
<path d="M402.8,458 L402.8,452.8 C402.8,446.4 411.9,446.4 411.9,452.8 L411.9,458 Z" fill="#cfe2f4"/>
<path d="M407.3,446.6 v11.6 M402.8,452.6 h9.2" stroke="#7a6a68" stroke-width=".8"/>
<!-- planter -->
<rect x="383.6" y="462.4" width="33.6" height="3.4" fill="#6a4228"/>
<path d="M384.4,463 C384.6,459 389,456.6 392.6,458.4 C395,456.4 399,457.4 400.4,459.6 C402.6,457 407,456.6 409,459 C412,457 416.6,459 417,463 Z" fill="#72c232"/>
<g fill="#4aa02a"><circle cx="389" cy="464.6" r="1.2"/><circle cx="399.6" cy="463.6" r="1.2"/><circle cx="398" cy="466.6" r="1"/><circle cx="414" cy="463" r="1.2"/><circle cx="416" cy="466" r="1"/></g>
<!-- ivy -->
<g fill="#5ab83a"><circle cx="379.6" cy="443.6" r="1.4"/><circle cx="377.6" cy="446.6" r="1.4"/><circle cx="380.6" cy="449" r="1.3"/><circle cx="377" cy="452" r="1.4"/><circle cx="379.6" cy="455" r="1.3"/><circle cx="378" cy="458.6" r="1.3"/><circle cx="418.6" cy="444" r="1.4"/><circle cx="417" cy="447.4" r="1.4"/><circle cx="420" cy="450" r="1.3"/><circle cx="417.6" cy="453" r="1.4"/><circle cx="420.6" cy="456" r="1.3"/><circle cx="418.6" cy="459.4" r="1.3"/><circle cx="421.4" cy="462.6" r="1.2"/></g>
<!-- sign -->
<path d="M341.6,447 h13" stroke="#7a5a3a" stroke-width=".7"/>
<ellipse cx="348.6" cy="452.6" rx="6.4" ry="4" fill="#2a6a2c"/>
<ellipse cx="348.6" cy="452.6" rx="5.4" ry="3.1" fill="none" stroke="#9ac070" stroke-width=".4"/>
<!-- awning -->
<path d="M351.2,413.6 L358.5,413.6 L352.7,438.2 A4.72,4.95 0 0 1 343.3,438.2 Z" fill="#e63a56"/>
<path d="M358.5,413.6 L365.8,413.6 L362.2,438.2 A4.72,4.95 0 0 1 352.7,438.2 Z" fill="#f2f4f6"/>
<path d="M365.8,413.6 L373.1,413.6 L371.6,438.2 A4.72,4.95 0 0 1 362.2,438.2 Z" fill="#e63a56"/>
<path d="M373.1,413.6 L380.4,413.6 L381.0,438.2 A4.72,4.95 0 0 1 371.6,438.2 Z" fill="#f2f4f6"/>
<path d="M380.4,413.6 L387.8,413.6 L390.5,438.2 A4.72,4.95 0 0 1 381.0,438.2 Z" fill="#e63a56"/>
<path d="M387.8,413.6 L395.1,413.6 L399.9,438.2 A4.72,4.95 0 0 1 390.5,438.2 Z" fill="#f2f4f6"/>
<path d="M395.1,413.6 L402.4,413.6 L409.3,438.2 A4.72,4.95 0 0 1 399.9,438.2 Z" fill="#e63a56"/>
<path d="M402.4,413.6 L409.7,413.6 L418.8,438.2 A4.72,4.95 0 0 1 409.3,438.2 Z" fill="#f2f4f6"/>
<path d="M409.7,413.6 L417.0,413.6 L428.2,438.2 A4.72,4.95 0 0 1 418.8,438.2 Z" fill="#e63a56"/>

</g>
<!-- 14_pension -->
<g>
<rect x="664.8" y="316" width="51" height="40" fill="#fbe4aa"/>
<rect x="715.8" y="320" width="25.6" height="36" fill="#f8d992"/>
<path d="M695.7,303 L727,316.4 L664.4,316.4 Z" fill="#fbe7b4"/>
<path d="M728.6,313.6 L743,322 L714.4,322 Z" fill="#f8dc9a"/>
<g stroke="#6b3c1c" stroke-width="1" fill="none"><path d="M664.8,316.2 h56"/><path d="M695.7,303 v13"/><path d="M684,309.6 L695.7,315.6 L707.4,309.6"/><path d="M728.6,313.6 v7 M722,319.6 h13"/></g>
<rect x="668.2" y="320.9" width="9.4" height="9.4" fill="#4b82ba" stroke="#7a5a3a" stroke-width=".6"/><path d="M672.9,320.9 v9.4 M668.2,325.6 h9.4" stroke="#e8eef6" stroke-width=".8"/><path d="M669.2,325.0 l3,-3 M673.9,329.3 l3,-3" stroke="#9ac0e6" stroke-width=".7"/><rect x="668.2" y="340.6" width="9.4" height="9.4" fill="#4b82ba" stroke="#7a5a3a" stroke-width=".6"/><path d="M672.9,340.6 v9.4 M668.2,345.3 h9.4" stroke="#e8eef6" stroke-width=".8"/><path d="M669.2,344.7 l3,-3 M673.9,349.0 l3,-3" stroke="#9ac0e6" stroke-width=".7"/><rect x="724.2" y="323.6" width="9.4" height="9.4" fill="#4b82ba" stroke="#7a5a3a" stroke-width=".6"/><path d="M728.9,323.6 v9.4 M724.2,328.3 h9.4" stroke="#e8eef6" stroke-width=".8"/><path d="M725.2,327.7 l3,-3 M729.9,332.0 l3,-3" stroke="#9ac0e6" stroke-width=".7"/><rect x="724.2" y="343.0" width="9.4" height="9.4" fill="#4b82ba" stroke="#7a5a3a" stroke-width=".6"/><path d="M728.9,343.0 v9.4 M724.2,347.7 h9.4" stroke="#e8eef6" stroke-width=".8"/><path d="M725.2,347.1 l3,-3 M729.9,351.4 l3,-3" stroke="#9ac0e6" stroke-width=".7"/>
<rect x="684.3" y="320.4" width="11.4" height="6.8" fill="#4b82ba" stroke="#7a5a3a" stroke-width=".5"/><path d="M690.0,320.4 v6.8" stroke="#e8eef6" stroke-width=".7"/><rect x="699.0" y="320.4" width="11.4" height="6.8" fill="#4b82ba" stroke="#7a5a3a" stroke-width=".5"/><path d="M704.7,320.4 v6.8" stroke="#e8eef6" stroke-width=".7"/><rect x="684.3" y="340.0" width="11.4" height="6.6" fill="#4b82ba" stroke="#7a5a3a" stroke-width=".5"/><path d="M690.0,340.0 v6.6" stroke="#e8eef6" stroke-width=".7"/><rect x="699.0" y="340.0" width="11.4" height="6.6" fill="#4b82ba" stroke="#7a5a3a" stroke-width=".5"/><path d="M704.7,340.0 v6.6" stroke="#e8eef6" stroke-width=".7"/>
<rect x="681" y="327.0" width="32.8" height="9.6" fill="#6b3c1c"/><path d="M681,328.6 h32.8" stroke="#8a5630" stroke-width=".5"/><path d="M681,330.8 h32.8" stroke="#8a5630" stroke-width=".5"/><path d="M681,333.0 h32.8" stroke="#8a5630" stroke-width=".5"/><path d="M681,335.2 h32.8" stroke="#8a5630" stroke-width=".5"/><path d="M681,323.4 h32.8 M681,323.4 v3.6 M713.8,323.4 v3.6" stroke="#7a4a26" stroke-width=".6" fill="none"/><path d="M684.0,323.4 v3.6" stroke="#9a7050" stroke-width=".35"/><path d="M687.4,323.4 v3.6" stroke="#9a7050" stroke-width=".35"/><path d="M690.8,323.4 v3.6" stroke="#9a7050" stroke-width=".35"/><path d="M694.2,323.4 v3.6" stroke="#9a7050" stroke-width=".35"/><path d="M697.6,323.4 v3.6" stroke="#9a7050" stroke-width=".35"/><path d="M701.0,323.4 v3.6" stroke="#9a7050" stroke-width=".35"/><path d="M704.4,323.4 v3.6" stroke="#9a7050" stroke-width=".35"/><path d="M707.8,323.4 v3.6" stroke="#9a7050" stroke-width=".35"/><path d="M711.2,323.4 v3.6" stroke="#9a7050" stroke-width=".35"/><rect x="681" y="346.6" width="32.8" height="9.6" fill="#6b3c1c"/><path d="M681,348.2 h32.8" stroke="#8a5630" stroke-width=".5"/><path d="M681,350.4 h32.8" stroke="#8a5630" stroke-width=".5"/><path d="M681,352.6 h32.8" stroke="#8a5630" stroke-width=".5"/><path d="M681,354.8 h32.8" stroke="#8a5630" stroke-width=".5"/><path d="M681,343.0 h32.8 M681,343.0 v3.6 M713.8,343.0 v3.6" stroke="#7a4a26" stroke-width=".6" fill="none"/><path d="M684.0,343.0 v3.6" stroke="#9a7050" stroke-width=".35"/><path d="M687.4,343.0 v3.6" stroke="#9a7050" stroke-width=".35"/><path d="M690.8,343.0 v3.6" stroke="#9a7050" stroke-width=".35"/><path d="M694.2,343.0 v3.6" stroke="#9a7050" stroke-width=".35"/><path d="M697.6,343.0 v3.6" stroke="#9a7050" stroke-width=".35"/><path d="M701.0,343.0 v3.6" stroke="#9a7050" stroke-width=".35"/><path d="M704.4,343.0 v3.6" stroke="#9a7050" stroke-width=".35"/><path d="M707.8,343.0 v3.6" stroke="#9a7050" stroke-width=".35"/><path d="M711.2,343.0 v3.6" stroke="#9a7050" stroke-width=".35"/>
<path d="M664.8,336.8 h51 M715.8,339.4 h25.6" stroke="#6b3c1c" stroke-width="1"/>
<path d="M664.4,355.8 h77.4" stroke="#6b3c1c" stroke-width="1.5"/>
<g stroke="#6b3c1c" stroke-width="2.4" fill="none" stroke-linecap="round"><path d="M653.6,319.6 L695.7,302 L726,314.4"/><path d="M712.4,322.4 L728.6,312.6 L745.8,322.4"/></g>
</g>
<!-- 15_cafe -->
<g>
<!-- chairs -->
<g stroke="#c2a58c" stroke-width="1.3" fill="none"><path d="M635.4,446 L635.6,489"/><path d="M634.6,469 h18.4"/><path d="M652.6,469 v19.6"/><path d="M646,469.6 v15"/><path d="M635,447 C640,445.4 644,445.6 647,447"/>
<path d="M721.4,448.4 L721,489"/><path d="M705,469 h17"/><path d="M705.6,469 v19.6"/><path d="M711.4,469.6 v15"/><path d="M709,449 C713,447.6 717,447.6 721.4,448.6"/><path d="M668.6,468 v15 M696.6,470 v14" stroke-width="1"/></g>
<rect x="634.4" y="467.6" width="19" height="2.2" fill="#e8c8a8"/><rect x="704.4" y="467.6" width="18" height="2.2" fill="#e8c8a8"/>
<!-- table legs -->
<g stroke="#c2a58c" stroke-width="1.5" fill="none"><path d="M672.6,466 L686.4,492"/><path d="M684.6,466 L670.6,492"/></g>
<path d="M676,478 l5,-1 l1.6,4 l-5,1.6z" fill="#a8703a"/>
<!-- WOMAN 1 -->
<path d="M649,468 L660,470 L658.6,488 L655.6,488 L654,474 L646,473 Z" fill="#fbdcc0"/>
<path d="M652.6,489 l6,-1.6 l1.6,2.2 l-2,2.4 l-5.6,.4z" fill="#e03252"/>
<path d="M646,443 C649,441 655,441.4 657.6,444 C661,452 664,462 665,471 C664,475 658,477 652,476.4 C647,475 643.4,470 643,464 C643,456 644,448 646,443 Z" fill="#f2743c"/>
<g fill="#f8b890" opacity=".8"><circle cx="652" cy="449" r=".6"/><circle cx="656" cy="455" r=".6"/><circle cx="650" cy="458" r=".6"/><circle cx="658" cy="463" r=".6"/><circle cx="652" cy="466" r=".6"/><circle cx="660" cy="470" r=".6"/><circle cx="648" cy="470" r=".6"/><circle cx="655" cy="472.6" r=".6"/></g>
<path d="M645,443.6 C642,446 640.6,452 640.6,458.6 L649,460 L653,452 L650,443.6 Z" fill="#6bab42"/>
<path d="M654,444.6 C657,447 659,452 660,459 L657,459.6 L653.6,452 Z" fill="#6bab42"/>
<path d="M641,453 l-5,2 l.6,2 l5.6,-1z" fill="#fbdcc0"/>
<path d="M629.6,449.6 h7 l.6,6 C636,458 631,458 629.4,455.6 Z" fill="#e8423e"/>
<path d="M631,449.6 C631.6,446.6 635.6,446.6 636,449.6" stroke="#c83030" stroke-width=".6" fill="none"/>
<path d="M645.4,436 C643,439.6 642,443 643,446.4 L645.4,445.6 C645,442.6 645.6,439.6 647,437.4 Z" fill="#c9793c"/>
<circle cx="650.8" cy="432" r="6.8" fill="#fbe0c6"/>
<path d="M643.6,432 C643,426 648,422.6 653,423.6 C658,424.6 660,429 658.4,433.6 C656,429.6 652,428 648,429.4 C646,430 644.6,431 643.6,432 Z" fill="#c9793c"/>
<ellipse cx="648.6" cy="432.6" rx=".5" ry=".9" fill="#3a2a20"/><ellipse cx="653.4" cy="432.6" rx=".5" ry=".9" fill="#3a2a20"/>
<path d="M649,435.6 q2,1.6 4,0z" fill="#e05050"/>
<!-- WOMAN 2 -->
<path d="M669,440 C672,437.6 683,437.6 686,440 C689,445 690.4,450 690.6,455 L668,455 C667.6,450 668,445 669,440 Z" fill="#e2aa32"/>
<g fill="#f4d070" opacity=".8"><circle cx="672" cy="443" r=".6"/><circle cx="676" cy="446" r=".6"/><circle cx="681" cy="443" r=".6"/><circle cx="685" cy="447" r=".6"/><circle cx="672" cy="450" r=".6"/><circle cx="680" cy="451" r=".6"/><circle cx="687" cy="452" r=".6"/></g>
<path d="M686,446 C689,444.6 691.6,442 692.6,439.6 L695,440.6 C694,444 691,448 688,450 Z" fill="#e2aa32"/>
<path d="M692,436 l1,-2 l1.2,.4 l.6,-1.6 l1.4,.6 l-.4,2 l1,1 l-2.2,4 l-2.8,-1z" fill="#fbdcc0"/>
<path d="M670.6,453.6 h16 v2.4 h-16z" fill="#2a8a4c"/>
<ellipse cx="676.4" cy="444.4" rx="3" ry="2.2" fill="#fafafa"/><ellipse cx="676.4" cy="443.8" rx="2.2" ry="1.1" fill="#4a2a1a"/>
<path d="M671,447 l4,-1.6 l1,2 l-4,1.6z" fill="#fbdcc0"/>
<path d="M669.6,430 C668.6,423 673,419.4 678,419.6 C683.6,419.8 686.6,424 685.6,430 C685.4,433 685.6,435 686,436.4 L682,436.6 L673,436.6 L669.4,436 C669.8,434 669.8,432 669.6,430 Z" fill="#4a3020"/>
<path d="M671.4,430 C671.4,426 674,424.4 677.6,424.4 C681.6,424.4 684,426.6 684,430 C684,434.6 681,437.4 677.6,437.4 C674,437.4 671.4,434.6 671.4,430 Z" fill="#fbe0c6"/>
<path d="M670.6,428.6 C672,424 676,422.6 680,423.6 C683,424.4 684.6,426.6 684.8,429 C681,427.6 676,427 670.6,428.6 Z" fill="#4a3020"/>
<ellipse cx="675" cy="430.6" rx=".5" ry=".9" fill="#3a2a20"/><ellipse cx="680" cy="430.6" rx=".5" ry=".9" fill="#3a2a20"/>
<path d="M675.6,433.6 q2,1.6 4,0z" fill="#e05050"/>
<ellipse cx="670.6" cy="431" rx="1" ry="1.4" fill="#f4b8a0"/><ellipse cx="685" cy="431" rx="1" ry="1.4" fill="#f4b8a0"/>
<!-- table -->
<ellipse cx="678.3" cy="461.6" rx="17.6" ry="5.8" fill="#e8b88c"/>
<ellipse cx="678.3" cy="460.8" rx="17.6" ry="5.6" fill="#f6cca4"/>
<g><ellipse cx="667.6" cy="461.6" rx="3.6" ry="1.4" fill="#fafafa"/><rect x="665.4" y="458" width="4.6" height="3.2" rx=".8" fill="#fafafa"/><ellipse cx="667.7" cy="458.2" rx="2.3" ry=".9" fill="#3a2418"/>
<ellipse cx="688" cy="461.4" rx="3.6" ry="1.4" fill="#fafafa"/><rect x="685.6" y="457.8" width="4.6" height="3.2" rx=".8" fill="#fafafa"/><ellipse cx="687.9" cy="458" rx="2.3" ry=".9" fill="#3a2418"/>
<rect x="675" y="459.6" width="3" height="2.6" fill="#fafafa"/><rect x="679.4" y="460.2" width="4" height="2.6" fill="#fafafa"/><ellipse cx="677.6" cy="457.6" rx="2.6" ry="1" fill="#f0f0f0"/></g>
<!-- WOMAN 3 -->
<path d="M699,461 L712.6,461 C713.6,464 712,467 708.6,468 L698.6,470.6 L704.4,486 L700.4,487.4 L692,470 C691,466 694,462.6 699,461 Z" fill="#909194"/>
<path d="M697.6,490.4 l6.4,-3 l1.6,2.4 l-2.4,2.6 l-5,.6z" fill="#3a82d2"/>
<path d="M701.6,442.4 C704,440.6 711,440.6 713.6,442.6 C716,448 716.6,455 715.6,461.6 L700.4,461.6 C699.4,455 699.8,448 701.6,442.4 Z" fill="#f2a2c4"/>
<path d="M707,441.4 C710,440.4 713.6,441 715,443.6 C717,449 717.4,455 716.6,461.6 L709,461.6 C708,455 707,448 707,441.4 Z" fill="#9272c2"/>
<path d="M701,446 C699.6,450 697,454 693.6,457 L695.6,459 C699.6,456.6 702.6,453 704,449 Z" fill="#9272c2"/>
<path d="M714,445 C717,448.6 720,450 723,449.6 L723.6,452.4 C719,453.6 715,452 712.6,449 Z" fill="#9272c2"/>
<path d="M723,448 l2,-2 l1.4,.6 l1.4,-.6 l.6,1.6 l-1,2.6 l-3.6,1z" fill="#fbdcc0"/>
<circle cx="709.4" cy="423.6" r="3.3" fill="#4a3028"/>
<circle cx="707" cy="432.4" r="6.8" fill="#fbe0c6"/>
<path d="M700,431 C700,425.6 705,423 710,424.4 C714.6,425.8 716,430.6 714,435.6 C712.6,431.6 709,428.6 704.6,429 C703,429.2 701.4,430 700,431 Z" fill="#4a3028"/>
<ellipse cx="704" cy="432.6" rx=".5" ry=".9" fill="#3a2a20"/><ellipse cx="708.6" cy="432.6" rx=".5" ry=".9" fill="#3a2a20"/>
<path d="M704.6,436 q1.8,1.4 3.6,0z" fill="#e05050"/>
<ellipse cx="701.6" cy="434.6" rx="1.2" ry=".9" fill="#f6a8a0" opacity=".8"/><ellipse cx="711" cy="434.6" rx="1.2" ry=".9" fill="#f6a8a0" opacity=".8"/>
</g>

</svg>
<div class="lb or" style="left:117px;top:161.5px;width:97px;height:25px">陶芸工房</div>
<div class="lb nv" style="left:266px;top:220px;width:117px;height:25px"><i>○○</i>ホテル</div>
<div class="lb tl" style="left:376px;top:118px;width:134px;height:25px">会席料理<i>○○</i></div>
<div class="lb nv" style="left:448px;top:261px;width:97px;height:24.5px"><i>○○</i>旅館</div>
<div class="lb or" style="left:540.3px;top:103.5px;width:134.5px;height:24.5px">フルーツ農園</div>
<div class="lb or" style="left:715px;top:105px;width:173px;height:24.5px">大山トレッキング</div>
<div class="lb tl two" style="left:596px;top:220px;width:101px;height:50.5px">精進料理<br>大山豆腐</div>
<div class="lb or" style="left:727px;top:255.3px;width:154.8px;height:25px"><i>○○</i>キャンプ場</div>
<div class="lb gr" style="left:104px;top:325.5px;width:154px;height:25px"><i>○○</i>レンタカー</div>
<div class="lb gr" style="left:34.5px;top:429px;width:134.5px;height:25px"><i>○○</i>タクシー</div>
<div class="lb gr" style="left:162.5px;top:508.5px;width:134.5px;height:25px">シャトルバス</div>
<div class="lb or" style="left:378px;top:357px;width:117px;height:24.5px">日帰り温泉</div>
<div class="lb tl" style="left:326px;top:477px;width:117px;height:25px">ジビエ料理</div>
<div class="lb nv" style="left:622px;top:364px;width:154px;height:25px">ペンション<i>○○</i></div>
<div class="lb tl" style="left:574px;top:500.4px;width:211px;height:25px"><i>○○</i>カフェ＆ショップ</div>
</div>
</body></html>
